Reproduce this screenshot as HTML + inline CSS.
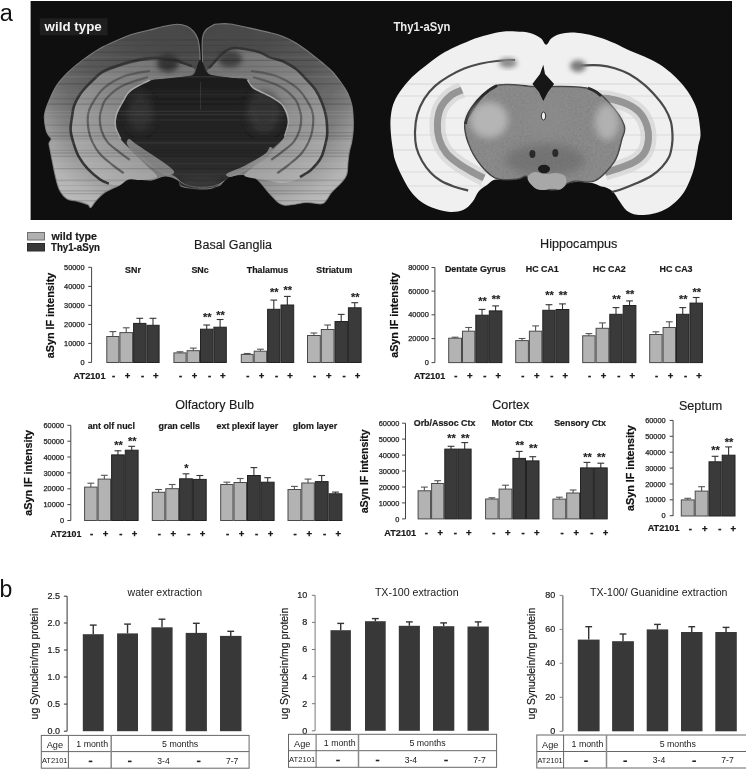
<!DOCTYPE html>
<html><head><meta charset="utf-8"><style>
html,body{margin:0;padding:0;background:#fff;}
body{width:746px;height:769px;overflow:hidden;}
svg{display:block;font-family:"Liberation Sans", sans-serif;-webkit-font-smoothing:antialiased;will-change:transform;}
</style></head><body>
<svg width="746" height="769" viewBox="0 0 746 769">
<text x="-0.3" y="20.8" font-size="23.5" font-weight="normal" text-anchor="start" fill="#111" >a</text>
<rect x="30.6" y="1" width="701.4" height="219" fill="#0f0f0f" stroke="none" stroke-width="1"/>
<defs>
<filter id="bl" x="-5%" y="-5%" width="110%" height="110%"><feGaussianBlur stdDeviation="0.6"/></filter>
<filter id="bl2" x="-30%" y="-30%" width="160%" height="160%"><feGaussianBlur stdDeviation="2.5"/></filter>
<filter id="bl3" x="-30%" y="-30%" width="160%" height="160%"><feGaussianBlur stdDeviation="5"/></filter>
<filter id="nz" x="0" y="0" width="100%" height="100%"><feTurbulence type="fractalNoise" baseFrequency="0.45" numOctaves="2" seed="7"/><feColorMatrix type="matrix" values="0.33 0.33 0.33 0 0  0.33 0.33 0.33 0 0  0.33 0.33 0.33 0 0  0 0 0 0 1"/></filter>
<filter id="bl4" x="-30%" y="-30%" width="160%" height="160%"><feGaussianBlur stdDeviation="3.5"/></filter>
<radialGradient id="wtc" gradientUnits="userSpaceOnUse" cx="200.5" cy="0" r="260">
 <stop offset="0" stop-color="#444"/><stop offset="0.3" stop-color="#4c4c4c"/><stop offset="0.5" stop-color="#5a5a5a"/><stop offset="0.62" stop-color="#6a6a6a"/><stop offset="0.7" stop-color="#7e7e7e"/><stop offset="0.78" stop-color="#9c9c9c"/><stop offset="0.86" stop-color="#b4b4b4"/><stop offset="1" stop-color="#c4c4c4"/>
</radialGradient>
<radialGradient id="wth" gradientUnits="userSpaceOnUse" cx="200.5" cy="0" r="260">
 <stop offset="0" stop-color="#666"/><stop offset="0.3" stop-color="#767676"/><stop offset="0.5" stop-color="#868686"/><stop offset="0.65" stop-color="#9a9a9a"/><stop offset="0.8" stop-color="#b2b2b2"/><stop offset="1" stop-color="#c8c8c8"/>
</radialGradient>
<linearGradient id="wtt" gradientUnits="userSpaceOnUse" x1="0" y1="78" x2="0" y2="190">
 <stop offset="0" stop-color="#1e1e1e"/><stop offset="0.6" stop-color="#262626"/><stop offset="1" stop-color="#333"/>
</linearGradient>
</defs>
<g filter="url(#bl)">
<path d="M200.5,75.0 C200.3,71.7 200.2,60.2 200.0,55.0 C199.8,49.8 199.4,46.9 199.0,44.0 C198.6,41.1 198.2,39.6 197.3,37.5 C196.4,35.4 195.0,33.0 193.3,31.1 C191.6,29.2 189.6,27.4 186.9,26.3 C184.2,25.2 181.0,24.3 177.2,24.3 C173.4,24.3 169.1,25.3 164.3,26.3 C159.5,27.3 153.7,29.0 148.3,30.3 C143.0,31.6 137.6,32.6 132.2,34.3 C126.8,36.0 121.4,38.4 116.1,40.7 C110.8,43.0 105.6,45.2 100.3,48.2 C95.0,51.2 89.3,55.1 84.2,58.9 C79.1,62.7 74.0,66.7 69.5,70.9 C65.0,75.1 60.8,79.5 57.4,84.3 C54.0,89.1 51.5,94.9 49.4,100.0 C47.2,105.1 45.1,109.9 44.5,114.9 C43.9,119.9 45.2,126.4 46.0,129.9 C46.8,133.4 48.1,134.4 49.0,135.9 C49.9,137.4 51.2,137.7 51.2,138.9 C51.2,140.1 49.2,141.8 49.0,143.3 C48.8,144.8 49.2,145.1 49.7,147.8 C50.2,150.6 51.1,155.3 52.0,159.8 C52.9,164.3 53.8,169.7 55.0,174.7 C56.2,179.7 57.4,185.7 59.4,189.7 C61.4,193.7 63.7,196.7 66.9,198.7 C70.2,200.7 75.4,200.6 78.9,201.6 C82.4,202.6 85.8,203.6 87.8,204.6 C89.8,205.6 89.5,208.1 90.8,207.6 C92.0,207.1 93.0,204.1 95.3,201.6 C97.5,199.1 100.3,195.4 104.3,192.7 C108.3,190.0 115.2,187.4 119.2,185.2 C123.2,182.9 124.7,180.2 128.2,179.2 C131.7,178.2 136.0,179.1 140.0,179.2 C144.0,179.3 147.8,180.5 152.0,180.0 C156.2,179.5 160.7,176.0 165.0,176.0 C169.3,176.0 175.3,178.3 178.0,180.0 C180.7,181.7 178.9,184.7 181.0,186.0 C183.1,187.3 187.2,187.5 190.5,188.0 C193.8,188.5 197.2,188.9 200.5,189.0 C203.8,189.1 207.6,188.8 210.0,188.5 C212.4,188.2 213.0,187.6 214.7,187.0 C216.4,186.4 218.5,186.0 220.0,185.0 C221.5,184.0 222.0,182.5 223.8,181.0 C225.6,179.5 226.6,177.0 230.8,176.0 C235.0,175.0 244.3,174.2 249.0,175.0 C253.7,175.8 255.4,177.7 259.0,181.0 C262.6,184.3 266.6,190.9 270.7,194.9 C274.8,198.9 277.5,203.7 283.4,205.0 C289.3,206.3 299.9,202.7 306.2,202.5 C312.5,202.3 318.0,204.2 321.4,203.8 C324.8,203.4 324.8,201.9 326.5,200.0 C328.2,198.1 329.0,195.4 331.5,192.4 C334.0,189.4 339.2,185.2 341.7,182.2 C344.2,179.2 345.6,178.0 346.7,174.6 C347.8,171.2 347.6,165.8 348.0,162.0 C348.4,158.2 348.7,155.2 349.3,151.8 C349.9,148.4 351.2,145.3 351.8,141.7 C352.4,138.1 353.0,133.9 353.2,130.0 C353.4,126.1 353.4,122.5 353.2,118.4 C353.0,114.3 352.8,109.5 351.9,105.4 C351.0,101.3 349.7,97.4 348.0,93.7 C346.3,90.0 344.1,87.0 341.5,83.3 C338.9,79.6 335.6,75.1 332.4,71.6 C329.1,68.1 325.9,65.8 322.0,62.5 C318.1,59.2 313.3,55.4 309.0,52.1 C304.7,48.9 300.3,45.6 296.0,43.0 C291.7,40.4 287.3,38.2 283.0,36.5 C278.7,34.8 275.8,34.1 270.4,32.7 C264.9,31.3 257.0,29.6 250.3,28.1 C243.6,26.7 235.8,24.7 230.2,24.0 C224.6,23.3 219.7,23.8 216.8,24.0 C213.9,24.2 214.4,24.6 212.6,25.5 C210.8,26.4 207.8,27.8 206.2,29.5 C204.6,31.2 203.6,33.4 202.9,35.9 C202.2,38.4 202.2,40.4 202.1,44.8 C202.0,49.1 202.7,57.0 202.5,62.0 C202.3,67.0 201.3,72.8 201.0,75.0 C200.7,77.2 200.7,78.3 200.5,75.0 Z" fill="url(#wtc)" stroke="#8c8c8c" stroke-width="1.1" stroke-opacity="0.8"/>
<path d="M193.0,68.0 C189.2,65.8 176.9,62.3 170.0,61.0 C163.1,59.7 157.7,59.7 151.5,60.0 C145.3,60.3 139.1,61.6 133.0,63.0 C126.9,64.4 120.2,66.7 115.0,68.5 C109.8,70.3 105.6,71.8 102.0,74.0 C98.4,76.2 96.4,78.7 93.6,81.4 C90.8,84.1 87.5,87.2 85.0,90.0 C82.5,92.8 80.4,95.5 78.6,98.5 C76.8,101.5 75.1,104.8 74.0,108.0 C72.9,111.2 72.8,114.1 72.2,117.8 C71.6,121.5 70.4,125.7 70.6,129.9 C70.8,134.2 72.2,138.8 73.6,143.3 C75.0,147.8 76.5,152.6 78.9,156.8 C81.3,161.1 84.3,165.1 87.8,168.8 C91.3,172.5 96.3,176.7 99.8,179.2 C103.3,181.7 105.6,182.7 108.8,183.7 C112.0,184.7 116.0,185.9 119.2,185.2 C122.4,184.4 124.7,180.1 128.2,179.2 C131.7,178.3 136.0,180.0 140.0,180.0 C144.0,180.0 149.2,179.7 152.0,179.0 C154.8,178.3 157.7,178.0 157.0,176.0 C156.3,174.0 151.2,170.2 148.0,167.0 C144.8,163.8 141.1,160.0 138.0,157.0 C134.9,154.0 132.6,152.0 129.7,149.0 C126.8,146.0 123.1,142.6 120.7,138.9 C118.3,135.2 116.2,130.9 115.5,126.9 C114.8,122.9 114.8,119.4 116.2,114.9 C117.6,110.4 121.2,104.0 123.7,100.0 C126.2,96.0 126.8,94.2 131.0,91.0 C135.2,87.8 143.0,83.1 149.0,81.0 C155.0,78.9 161.0,79.2 167.0,78.5 C173.0,77.8 180.7,77.2 185.0,76.5 C189.3,75.8 191.7,75.4 193.0,74.0 C194.3,72.6 196.8,70.2 193.0,68.0 Z" fill="url(#wth)"/>
<path d="M208.0,70.0 C211.7,65.8 221.8,52.1 230.0,49.0 C238.2,45.9 248.2,49.5 257.0,51.5 C265.8,53.5 276.5,58.3 283.0,61.2 C289.5,64.1 292.1,66.0 296.0,69.0 C299.9,72.0 303.1,75.9 306.4,79.4 C309.6,82.9 312.9,85.9 315.5,89.8 C318.1,93.7 320.3,98.5 322.0,102.8 C323.7,107.1 325.0,111.3 325.9,115.8 C326.8,120.3 327.1,126.1 327.2,130.0 C327.3,133.9 327.5,134.6 326.5,139.1 C325.5,143.6 323.9,151.8 321.4,156.9 C318.9,162.0 314.9,166.1 311.3,169.6 C307.7,173.1 304.7,175.8 300.0,178.0 C295.3,180.2 288.8,182.7 283.0,183.0 C277.2,183.3 271.0,181.0 265.0,180.0 C259.0,179.0 250.3,178.0 247.0,177.0 C243.7,176.0 243.8,175.8 245.0,174.0 C246.2,172.2 250.8,168.8 254.0,166.0 C257.2,163.2 260.7,159.8 264.0,157.0 C267.3,154.2 270.6,152.4 274.0,149.0 C277.4,145.6 282.2,141.2 284.6,136.6 C287.0,132.0 288.6,126.5 288.4,121.4 C288.2,116.3 285.9,110.1 283.4,106.2 C280.8,102.3 276.4,100.2 273.1,98.0 C269.8,95.8 267.1,94.8 263.7,93.1 C260.3,91.4 255.7,89.9 253.0,87.7 C250.3,85.5 249.2,81.3 247.6,79.7 C246.0,78.1 246.5,78.6 243.6,78.3 C240.7,78.0 235.1,78.2 230.2,77.7 C225.3,77.2 217.8,76.2 214.1,75.6 C210.4,75.0 209.0,74.9 208.0,74.0 C207.0,73.1 204.3,74.2 208.0,70.0 Z" fill="url(#wth)"/>
<path d="M192.0,66.0 C188.3,64.8 176.8,60.4 170.0,59.0 C163.2,57.6 157.7,57.6 151.5,57.9 C145.3,58.2 139.1,59.6 133.0,61.0 C126.9,62.4 120.2,64.7 115.0,66.5 C109.8,68.3 105.6,69.8 102.0,72.0 C98.4,74.2 96.4,76.7 93.6,79.4 C90.8,82.1 87.5,85.2 85.0,88.0 C82.5,90.8 80.4,93.5 78.6,96.5 C76.8,99.5 75.1,102.8 74.0,106.0 C72.9,109.2 72.8,111.8 72.2,115.8 C71.6,119.8 70.4,125.3 70.6,129.9 C70.8,134.5 72.2,138.8 73.6,143.3 C75.0,147.8 76.5,152.6 78.9,156.8 C81.3,161.1 84.3,165.1 87.8,168.8 C91.3,172.5 96.3,176.7 99.8,179.2 C103.3,181.7 107.3,182.9 108.8,183.7" fill="none" stroke="#353535" stroke-width="2.6"/>
<path d="M209.0,68.0 C212.5,64.8 222.0,51.5 230.0,48.8 C238.0,46.0 250.3,50.1 257.0,51.5 C263.7,52.9 265.7,55.7 270.0,57.3 C274.3,58.9 278.7,59.2 283.0,61.2 C287.3,63.2 292.1,66.0 296.0,69.0 C299.9,72.0 303.1,75.9 306.4,79.4 C309.6,82.9 312.9,85.9 315.5,89.8 C318.1,93.7 320.3,98.5 322.0,102.8 C323.7,107.1 325.0,111.3 325.9,115.8 C326.8,120.3 327.1,126.1 327.2,130.0 C327.3,133.9 327.5,134.6 326.5,139.1 C325.5,143.6 323.9,151.8 321.4,156.9 C318.9,162.0 314.9,166.2 311.3,169.6 C307.7,172.9 301.9,175.8 300.0,177.0" fill="none" stroke="#353535" stroke-width="2.6"/>
<path d="M150.0,71.0 C145.8,71.8 132.7,73.2 125.0,76.0 C117.3,78.8 109.5,83.3 104.0,88.0 C98.5,92.7 94.7,99.5 92.0,104.0 C89.3,108.5 88.6,110.6 88.0,114.9 C87.4,119.2 87.9,125.4 88.6,129.9 C89.3,134.4 90.4,137.9 92.3,141.9 C94.2,145.9 96.6,150.1 99.8,153.8 C103.0,157.5 107.7,161.1 111.7,164.3 C115.7,167.5 121.7,171.7 123.7,173.2" fill="none" stroke="#555" stroke-width="2.2" opacity="0.85"/>
<path d="M148.0,77.0 C143.7,78.5 129.0,82.3 122.0,86.0 C115.0,89.7 109.5,95.0 106.0,99.0 C102.5,103.0 102.3,106.8 101.3,110.0 C100.3,113.2 99.8,114.7 99.8,118.0 C99.8,121.3 100.0,125.9 101.3,129.9 C102.5,133.9 104.6,138.4 107.3,141.9 C110.0,145.4 114.0,147.8 117.7,150.8 C121.4,153.8 127.7,158.3 129.7,159.8" fill="none" stroke="#555" stroke-width="2.2" opacity="0.85"/>
<path d="M251.0,71.0 C255.2,71.8 268.3,73.2 276.0,76.0 C283.7,78.8 291.5,83.3 297.0,88.0 C302.5,92.7 306.3,99.5 309.0,104.0 C311.7,108.5 312.4,110.6 313.0,114.9 C313.6,119.2 313.1,125.4 312.4,129.9 C311.7,134.4 310.6,137.9 308.7,141.9 C306.8,145.9 304.4,150.1 301.2,153.8 C298.0,157.5 293.3,161.1 289.3,164.3 C285.3,167.5 279.3,171.7 277.3,173.2" fill="none" stroke="#555" stroke-width="2.2" opacity="0.85"/>
<path d="M253.0,77.0 C257.3,78.5 272.0,82.3 279.0,86.0 C286.0,89.7 291.6,95.0 295.0,99.0 C298.4,103.0 298.7,106.8 299.7,110.0 C300.7,113.2 301.2,114.7 301.2,118.0 C301.2,121.3 300.9,125.9 299.7,129.9 C298.4,133.9 296.4,138.4 293.7,141.9 C291.0,145.4 287.0,147.8 283.3,150.8 C279.6,153.8 273.3,158.3 271.3,159.8" fill="none" stroke="#555" stroke-width="2.2" opacity="0.85"/>
<ellipse cx="168" cy="63" rx="11" ry="9" fill="#2c2c2c" opacity="0.85" filter="url(#bl2)"/>
<ellipse cx="230" cy="59" rx="12" ry="8" fill="#303030" opacity="0.8" filter="url(#bl2)"/>
<path d="M149.0,81.0 C143.0,83.1 135.2,87.8 131.0,91.0 C126.8,94.2 126.2,96.0 123.7,100.0 C121.2,104.0 117.6,110.4 116.2,114.9 C114.8,119.4 114.8,122.9 115.5,126.9 C116.2,130.9 118.3,135.4 120.7,138.9 C123.1,142.4 126.5,145.3 129.7,148.0 C132.9,150.7 136.3,152.2 140.0,155.0 C143.7,157.8 148.3,162.2 152.0,165.0 C155.7,167.8 158.9,170.5 162.0,172.0 C165.1,173.5 167.6,172.8 170.3,174.0 C173.0,175.2 176.7,177.2 178.4,179.0 C180.1,180.8 178.4,183.5 180.4,185.0 C182.4,186.5 187.1,187.4 190.5,188.0 C193.9,188.6 196.6,188.8 200.6,188.6 C204.6,188.4 210.8,188.3 214.7,187.0 C218.6,185.7 221.1,182.8 223.8,181.0 C226.5,179.2 228.1,177.5 230.8,176.0 C233.5,174.5 236.8,173.8 240.0,172.0 C243.2,170.2 246.3,167.7 250.0,165.0 C253.7,162.3 258.3,158.7 262.0,156.0 C265.7,153.3 268.2,152.2 272.0,149.0 C275.8,145.8 281.9,141.2 284.6,136.6 C287.3,132.0 288.6,126.5 288.4,121.4 C288.2,116.3 285.9,110.1 283.4,106.2 C280.8,102.3 276.4,100.2 273.1,98.0 C269.8,95.8 267.1,94.8 263.7,93.1 C260.3,91.4 255.7,89.9 253.0,87.7 C250.3,85.5 251.4,81.4 247.6,79.7 C243.8,78.0 235.8,78.4 230.2,77.7 C224.6,77.0 218.0,76.5 214.1,75.6 C210.2,74.6 208.9,74.3 207.0,72.0 C205.1,69.7 203.6,64.0 202.5,62.0 C201.4,60.0 201.2,60.0 200.5,60.0 C199.8,60.0 199.6,59.6 198.5,62.0 C197.4,64.4 196.2,71.9 194.0,74.3 C191.8,76.7 189.5,75.8 185.0,76.5 C180.5,77.2 173.0,77.8 167.0,78.5 C161.0,79.2 155.0,78.9 149.0,81.0 Z" fill="url(#wtt)"/>
<ellipse cx="140" cy="112" rx="13" ry="20" fill="#3a3a3a" opacity="0.6" filter="url(#bl4)"/>
<ellipse cx="264" cy="112" rx="17" ry="22" fill="#3c3c3c" opacity="0.65" filter="url(#bl4)"/>
<path d="M129.0,139.0 C130.5,139.0 132.8,141.8 136.0,144.0 C139.2,146.2 144.0,149.3 148.0,152.0 C152.0,154.7 156.2,157.3 160.0,160.0 C163.8,162.7 168.7,165.8 171.0,168.0 C173.3,170.2 174.8,171.8 174.0,173.0 C173.2,174.2 169.2,175.7 166.0,175.0 C162.8,174.3 158.8,171.3 155.0,169.0 C151.2,166.7 146.7,163.8 143.0,161.0 C139.3,158.2 135.7,154.8 133.0,152.0 C130.3,149.2 127.7,146.2 127.0,144.0 C126.3,141.8 127.5,139.0 129.0,139.0 Z" fill="#8a8a8a" opacity="0.9"/>
<path d="M270.0,147.0 C268.8,147.5 268.5,150.8 266.0,153.0 C263.5,155.2 259.0,157.7 255.0,160.0 C251.0,162.3 246.2,165.0 242.0,167.0 C237.8,169.0 232.7,170.7 230.0,172.0 C227.3,173.3 225.8,174.2 226.0,175.0 C226.2,175.8 228.2,177.5 231.0,177.0 C233.8,176.5 238.8,174.0 243.0,172.0 C247.2,170.0 251.8,167.5 256.0,165.0 C260.2,162.5 265.2,159.5 268.0,157.0 C270.8,154.5 272.7,151.7 273.0,150.0 C273.3,148.3 271.2,146.5 270.0,147.0 Z" fill="#8e8e8e" opacity="0.9"/>
<path d="M150.0,80.0 C146.8,81.7 135.4,86.7 131.0,90.0 C126.6,93.3 126.2,95.8 123.7,100.0 C121.2,104.2 117.6,110.4 116.2,114.9 C114.8,119.4 114.8,122.9 115.5,126.9 C116.2,130.9 119.8,136.9 120.7,138.9" fill="none" stroke="#a8a8a8" stroke-width="1.6"/>
<path d="M247.6,79.7 C248.5,81.0 250.3,85.5 253.0,87.7 C255.7,89.9 260.3,91.4 263.7,93.1 C267.1,94.8 269.8,95.8 273.1,98.0 C276.4,100.2 280.8,102.3 283.4,106.2 C285.9,110.1 288.2,116.3 288.4,121.4 C288.6,126.5 285.2,134.1 284.6,136.6" fill="none" stroke="#a8a8a8" stroke-width="1.6"/>
<path d="M179,180 C185,189 215,190 224,181" fill="none" stroke="#8a8a8a" stroke-width="1"/>
<ellipse cx="200.5" cy="182" rx="19" ry="5" fill="#3a3a3a" opacity="0.9" filter="url(#bl2)"/>
<path d="M200.5,82 L200.5,110" stroke="#3a3a3a" stroke-width="0.8"/>
<clipPath id="cp1"><path d="M200.5,75.0 C200.3,71.7 200.2,60.2 200.0,55.0 C199.8,49.8 199.4,46.9 199.0,44.0 C198.6,41.1 198.2,39.6 197.3,37.5 C196.4,35.4 195.0,33.0 193.3,31.1 C191.6,29.2 189.6,27.4 186.9,26.3 C184.2,25.2 181.0,24.3 177.2,24.3 C173.4,24.3 169.1,25.3 164.3,26.3 C159.5,27.3 153.7,29.0 148.3,30.3 C143.0,31.6 137.6,32.6 132.2,34.3 C126.8,36.0 121.4,38.4 116.1,40.7 C110.8,43.0 105.6,45.2 100.3,48.2 C95.0,51.2 89.3,55.1 84.2,58.9 C79.1,62.7 74.0,66.7 69.5,70.9 C65.0,75.1 60.8,79.5 57.4,84.3 C54.0,89.1 51.5,94.9 49.4,100.0 C47.2,105.1 45.1,109.9 44.5,114.9 C43.9,119.9 45.2,126.4 46.0,129.9 C46.8,133.4 48.1,134.4 49.0,135.9 C49.9,137.4 51.2,137.7 51.2,138.9 C51.2,140.1 49.2,141.8 49.0,143.3 C48.8,144.8 49.2,145.1 49.7,147.8 C50.2,150.6 51.1,155.3 52.0,159.8 C52.9,164.3 53.8,169.7 55.0,174.7 C56.2,179.7 57.4,185.7 59.4,189.7 C61.4,193.7 63.7,196.7 66.9,198.7 C70.2,200.7 75.4,200.6 78.9,201.6 C82.4,202.6 85.8,203.6 87.8,204.6 C89.8,205.6 89.5,208.1 90.8,207.6 C92.0,207.1 93.0,204.1 95.3,201.6 C97.5,199.1 100.3,195.4 104.3,192.7 C108.3,190.0 115.2,187.4 119.2,185.2 C123.2,182.9 124.7,180.2 128.2,179.2 C131.7,178.2 136.0,179.1 140.0,179.2 C144.0,179.3 147.8,180.5 152.0,180.0 C156.2,179.5 160.7,176.0 165.0,176.0 C169.3,176.0 175.3,178.3 178.0,180.0 C180.7,181.7 178.9,184.7 181.0,186.0 C183.1,187.3 187.2,187.5 190.5,188.0 C193.8,188.5 197.2,188.9 200.5,189.0 C203.8,189.1 207.6,188.8 210.0,188.5 C212.4,188.2 213.0,187.6 214.7,187.0 C216.4,186.4 218.5,186.0 220.0,185.0 C221.5,184.0 222.0,182.5 223.8,181.0 C225.6,179.5 226.6,177.0 230.8,176.0 C235.0,175.0 244.3,174.2 249.0,175.0 C253.7,175.8 255.4,177.7 259.0,181.0 C262.6,184.3 266.6,190.9 270.7,194.9 C274.8,198.9 277.5,203.7 283.4,205.0 C289.3,206.3 299.9,202.7 306.2,202.5 C312.5,202.3 318.0,204.2 321.4,203.8 C324.8,203.4 324.8,201.9 326.5,200.0 C328.2,198.1 329.0,195.4 331.5,192.4 C334.0,189.4 339.2,185.2 341.7,182.2 C344.2,179.2 345.6,178.0 346.7,174.6 C347.8,171.2 347.6,165.8 348.0,162.0 C348.4,158.2 348.7,155.2 349.3,151.8 C349.9,148.4 351.2,145.3 351.8,141.7 C352.4,138.1 353.0,133.9 353.2,130.0 C353.4,126.1 353.4,122.5 353.2,118.4 C353.0,114.3 352.8,109.5 351.9,105.4 C351.0,101.3 349.7,97.4 348.0,93.7 C346.3,90.0 344.1,87.0 341.5,83.3 C338.9,79.6 335.6,75.1 332.4,71.6 C329.1,68.1 325.9,65.8 322.0,62.5 C318.1,59.2 313.3,55.4 309.0,52.1 C304.7,48.9 300.3,45.6 296.0,43.0 C291.7,40.4 287.3,38.2 283.0,36.5 C278.7,34.8 275.8,34.1 270.4,32.7 C264.9,31.3 257.0,29.6 250.3,28.1 C243.6,26.7 235.8,24.7 230.2,24.0 C224.6,23.3 219.7,23.8 216.8,24.0 C213.9,24.2 214.4,24.6 212.6,25.5 C210.8,26.4 207.8,27.8 206.2,29.5 C204.6,31.2 203.6,33.4 202.9,35.9 C202.2,38.4 202.2,40.4 202.1,44.8 C202.0,49.1 202.7,57.0 202.5,62.0 C202.3,67.0 201.3,72.8 201.0,75.0 C200.7,77.2 200.7,78.3 200.5,75.0 Z"/></clipPath>
<g clip-path="url(#cp1)">
<line x1="40" y1="40.0" x2="360" y2="40.0" stroke="#000" stroke-width="1.1" opacity="0.13"/>
<line x1="40" y1="45.5" x2="360" y2="45.5" stroke="#000" stroke-width="0.8" opacity="0.09"/>
<line x1="40" y1="52.2" x2="360" y2="52.2" stroke="#000" stroke-width="1.6" opacity="0.10"/>
<line x1="40" y1="57.1" x2="360" y2="57.1" stroke="#fff" stroke-width="1.3" opacity="0.05"/>
<line x1="40" y1="60.3" x2="360" y2="60.3" stroke="#000" stroke-width="1.2" opacity="0.17"/>
<line x1="40" y1="66.5" x2="360" y2="66.5" stroke="#000" stroke-width="1.4" opacity="0.09"/>
<line x1="40" y1="72.0" x2="360" y2="72.0" stroke="#000" stroke-width="1.5" opacity="0.08"/>
<line x1="40" y1="76.8" x2="360" y2="76.8" stroke="#fff" stroke-width="1.4" opacity="0.07"/>
<line x1="40" y1="83.9" x2="360" y2="83.9" stroke="#000" stroke-width="1.2" opacity="0.16"/>
<line x1="40" y1="91.1" x2="360" y2="91.1" stroke="#fff" stroke-width="0.9" opacity="0.03"/>
<line x1="40" y1="94.7" x2="360" y2="94.7" stroke="#fff" stroke-width="1.3" opacity="0.05"/>
<line x1="40" y1="98.7" x2="360" y2="98.7" stroke="#000" stroke-width="1.1" opacity="0.12"/>
<line x1="40" y1="104.1" x2="360" y2="104.1" stroke="#000" stroke-width="1.3" opacity="0.17"/>
<line x1="40" y1="111.3" x2="360" y2="111.3" stroke="#fff" stroke-width="1.3" opacity="0.07"/>
<line x1="40" y1="114.6" x2="360" y2="114.6" stroke="#fff" stroke-width="1.5" opacity="0.07"/>
<line x1="40" y1="119.9" x2="360" y2="119.9" stroke="#fff" stroke-width="1.5" opacity="0.04"/>
<line x1="40" y1="125.3" x2="360" y2="125.3" stroke="#000" stroke-width="1.5" opacity="0.09"/>
<line x1="40" y1="132.8" x2="360" y2="132.8" stroke="#000" stroke-width="1.1" opacity="0.16"/>
<line x1="40" y1="136.0" x2="360" y2="136.0" stroke="#000" stroke-width="1.5" opacity="0.16"/>
<line x1="40" y1="138.7" x2="360" y2="138.7" stroke="#000" stroke-width="1.4" opacity="0.08"/>
<line x1="40" y1="142.9" x2="360" y2="142.9" stroke="#fff" stroke-width="1.2" opacity="0.07"/>
<line x1="40" y1="150.4" x2="360" y2="150.4" stroke="#000" stroke-width="1.3" opacity="0.09"/>
<line x1="40" y1="153.0" x2="360" y2="153.0" stroke="#000" stroke-width="1.3" opacity="0.12"/>
<line x1="40" y1="156.3" x2="360" y2="156.3" stroke="#000" stroke-width="1.1" opacity="0.17"/>
<line x1="40" y1="163.6" x2="360" y2="163.6" stroke="#fff" stroke-width="1.2" opacity="0.05"/>
<line x1="40" y1="168.7" x2="360" y2="168.7" stroke="#000" stroke-width="1.2" opacity="0.14"/>
<line x1="40" y1="174.3" x2="360" y2="174.3" stroke="#fff" stroke-width="1.1" opacity="0.05"/>
<line x1="40" y1="180.4" x2="360" y2="180.4" stroke="#000" stroke-width="1.6" opacity="0.11"/>
<line x1="40" y1="185.5" x2="360" y2="185.5" stroke="#000" stroke-width="1.1" opacity="0.08"/>
<line x1="40" y1="190.9" x2="360" y2="190.9" stroke="#000" stroke-width="1.3" opacity="0.14"/>
<line x1="40" y1="193.7" x2="360" y2="193.7" stroke="#000" stroke-width="1.3" opacity="0.13"/>
<line x1="40" y1="198.0" x2="360" y2="198.0" stroke="#fff" stroke-width="0.8" opacity="0.06"/>
<line x1="40" y1="200.8" x2="360" y2="200.8" stroke="#000" stroke-width="1.0" opacity="0.18"/>
</g>
</g>
<g filter="url(#bl)">
<clipPath id="cp2"><path d="M546.1,44.7 C544.3,44.7 543.5,40.2 540.8,38.2 C538.1,36.2 534.1,34.0 530.0,32.9 C525.9,31.8 520.7,31.7 516.0,31.5 C511.3,31.3 506.8,31.2 502.0,31.8 C497.2,32.4 492.3,33.6 487.0,35.0 C481.7,36.4 476.9,37.6 470.0,40.4 C463.1,43.2 452.3,47.9 445.3,51.8 C438.3,55.7 433.5,59.6 427.9,63.9 C422.3,68.2 416.5,72.6 411.8,77.3 C407.1,82.0 402.8,87.4 399.7,92.0 C396.6,96.6 394.5,100.3 393.0,105.0 C391.5,109.7 390.8,115.0 390.5,120.0 C390.2,125.0 390.6,130.0 391.0,135.0 C391.4,140.0 392.3,145.8 393.0,150.0 C393.7,154.2 393.6,155.7 395.0,159.9 C396.4,164.1 399.0,170.2 401.6,175.4 C404.2,180.6 407.2,186.5 410.5,190.9 C413.8,195.3 417.4,199.0 421.5,201.9 C425.6,204.8 430.0,206.9 434.8,208.6 C439.6,210.3 445.5,211.7 450.3,211.9 C455.1,212.1 459.9,211.4 463.6,209.7 C467.3,208.0 469.8,205.0 472.4,201.9 C475.0,198.8 476.4,193.9 479.0,190.9 C481.6,187.9 485.3,186.0 487.9,184.2 C490.5,182.3 491.6,180.5 494.5,179.8 C497.4,179.1 501.5,180.0 505.6,179.8 C509.7,179.6 515.6,179.3 518.9,178.7 C522.2,178.1 523.3,175.8 525.5,176.0 C527.7,176.2 529.9,178.1 532.1,179.8 C534.3,181.5 535.8,184.7 538.8,186.4 C541.8,188.1 546.3,189.4 549.8,189.8 C553.3,190.2 557.3,189.7 560.0,188.7 C562.7,187.7 563.5,185.1 566.0,184.0 C568.5,182.9 570.6,182.2 575.0,182.0 C579.4,181.8 587.9,182.4 592.1,183.1 C596.3,183.8 597.7,185.3 600.0,186.0 C602.3,186.7 603.7,186.5 605.9,187.5 C608.1,188.5 611.1,189.7 613.3,191.9 C615.5,194.1 617.0,197.7 619.2,200.8 C621.4,203.9 623.5,208.1 626.5,210.4 C629.5,212.7 632.7,214.2 636.9,214.8 C641.1,215.4 646.9,215.0 651.6,214.1 C656.3,213.2 661.0,211.6 664.9,209.6 C668.8,207.6 672.0,205.2 675.2,202.3 C678.4,199.4 681.6,195.6 684.1,191.9 C686.6,188.2 688.3,184.3 690.0,180.1 C691.7,175.9 693.2,171.6 694.4,166.9 C695.6,162.2 696.6,155.8 697.3,152.1 C698.0,148.4 698.0,147.1 698.5,144.7 C699.0,142.2 700.0,139.8 700.3,137.4 C700.6,135.0 700.5,133.5 700.3,130.3 C700.0,127.2 699.5,122.4 698.8,118.5 C698.1,114.6 697.4,110.6 695.9,106.7 C694.4,102.8 692.5,98.8 690.0,94.9 C687.5,91.0 684.3,86.8 681.1,83.1 C677.9,79.4 674.5,76.0 670.8,72.8 C667.1,69.6 663.4,66.6 659.0,63.9 C654.6,61.2 649.1,58.7 644.2,56.5 C639.3,54.3 634.4,52.8 629.5,50.6 C624.6,48.4 619.8,45.5 614.7,43.3 C609.6,41.1 604.2,38.9 598.7,37.2 C593.2,35.5 586.1,34.1 581.5,33.3 C576.9,32.5 574.4,32.3 570.8,32.4 C567.2,32.5 563.2,33.0 560.0,34.0 C556.8,35.0 553.8,36.4 551.5,38.2 C549.2,40.0 547.9,44.7 546.1,44.7 Z"/></clipPath>
<path d="M546.1,44.7 C544.3,44.7 543.5,40.2 540.8,38.2 C538.1,36.2 534.1,34.0 530.0,32.9 C525.9,31.8 520.7,31.7 516.0,31.5 C511.3,31.3 506.8,31.2 502.0,31.8 C497.2,32.4 492.3,33.6 487.0,35.0 C481.7,36.4 476.9,37.6 470.0,40.4 C463.1,43.2 452.3,47.9 445.3,51.8 C438.3,55.7 433.5,59.6 427.9,63.9 C422.3,68.2 416.5,72.6 411.8,77.3 C407.1,82.0 402.8,87.4 399.7,92.0 C396.6,96.6 394.5,100.3 393.0,105.0 C391.5,109.7 390.8,115.0 390.5,120.0 C390.2,125.0 390.6,130.0 391.0,135.0 C391.4,140.0 392.3,145.8 393.0,150.0 C393.7,154.2 393.6,155.7 395.0,159.9 C396.4,164.1 399.0,170.2 401.6,175.4 C404.2,180.6 407.2,186.5 410.5,190.9 C413.8,195.3 417.4,199.0 421.5,201.9 C425.6,204.8 430.0,206.9 434.8,208.6 C439.6,210.3 445.5,211.7 450.3,211.9 C455.1,212.1 459.9,211.4 463.6,209.7 C467.3,208.0 469.8,205.0 472.4,201.9 C475.0,198.8 476.4,193.9 479.0,190.9 C481.6,187.9 485.3,186.0 487.9,184.2 C490.5,182.3 491.6,180.5 494.5,179.8 C497.4,179.1 501.5,180.0 505.6,179.8 C509.7,179.6 515.6,179.3 518.9,178.7 C522.2,178.1 523.3,175.8 525.5,176.0 C527.7,176.2 529.9,178.1 532.1,179.8 C534.3,181.5 535.8,184.7 538.8,186.4 C541.8,188.1 546.3,189.4 549.8,189.8 C553.3,190.2 557.3,189.7 560.0,188.7 C562.7,187.7 563.5,185.1 566.0,184.0 C568.5,182.9 570.6,182.2 575.0,182.0 C579.4,181.8 587.9,182.4 592.1,183.1 C596.3,183.8 597.7,185.3 600.0,186.0 C602.3,186.7 603.7,186.5 605.9,187.5 C608.1,188.5 611.1,189.7 613.3,191.9 C615.5,194.1 617.0,197.7 619.2,200.8 C621.4,203.9 623.5,208.1 626.5,210.4 C629.5,212.7 632.7,214.2 636.9,214.8 C641.1,215.4 646.9,215.0 651.6,214.1 C656.3,213.2 661.0,211.6 664.9,209.6 C668.8,207.6 672.0,205.2 675.2,202.3 C678.4,199.4 681.6,195.6 684.1,191.9 C686.6,188.2 688.3,184.3 690.0,180.1 C691.7,175.9 693.2,171.6 694.4,166.9 C695.6,162.2 696.6,155.8 697.3,152.1 C698.0,148.4 698.0,147.1 698.5,144.7 C699.0,142.2 700.0,139.8 700.3,137.4 C700.6,135.0 700.5,133.5 700.3,130.3 C700.0,127.2 699.5,122.4 698.8,118.5 C698.1,114.6 697.4,110.6 695.9,106.7 C694.4,102.8 692.5,98.8 690.0,94.9 C687.5,91.0 684.3,86.8 681.1,83.1 C677.9,79.4 674.5,76.0 670.8,72.8 C667.1,69.6 663.4,66.6 659.0,63.9 C654.6,61.2 649.1,58.7 644.2,56.5 C639.3,54.3 634.4,52.8 629.5,50.6 C624.6,48.4 619.8,45.5 614.7,43.3 C609.6,41.1 604.2,38.9 598.7,37.2 C593.2,35.5 586.1,34.1 581.5,33.3 C576.9,32.5 574.4,32.3 570.8,32.4 C567.2,32.5 563.2,33.0 560.0,34.0 C556.8,35.0 553.8,36.4 551.5,38.2 C549.2,40.0 547.9,44.7 546.1,44.7 Z" fill="#f0f0f0"/>
<g clip-path="url(#cp2)">
<line x1="385" y1="84" x2="705" y2="84" stroke="#999" stroke-width="1" opacity="0.3"/>
<line x1="385" y1="96" x2="705" y2="96" stroke="#999" stroke-width="1" opacity="0.25"/>
<line x1="385" y1="118" x2="705" y2="118" stroke="#999" stroke-width="1" opacity="0.2"/>
<line x1="385" y1="135" x2="705" y2="135" stroke="#999" stroke-width="1" opacity="0.25"/>
<line x1="385" y1="150" x2="705" y2="150" stroke="#999" stroke-width="1" opacity="0.3"/>
<line x1="385" y1="172" x2="705" y2="172" stroke="#999" stroke-width="1" opacity="0.25"/>
<line x1="385" y1="186" x2="705" y2="186" stroke="#999" stroke-width="1" opacity="0.25"/>
</g>
<path d="M462.0,90.0 C460.2,90.8 455.0,92.1 451.5,95.0 C448.0,97.9 443.2,102.7 440.8,107.6 C438.4,112.5 437.6,118.8 437.4,124.2 C437.1,129.6 437.8,134.9 439.3,139.8 C440.9,144.7 443.4,149.4 446.7,153.5 C450.0,157.6 454.8,160.9 459.3,164.2 C463.9,167.4 469.9,170.7 474.0,173.0 C478.1,175.3 482.3,177.2 484.0,178.0" fill="none" stroke="#cfcfcf" stroke-width="16" opacity="0.6"/>
<path d="M462.0,90.0 C460.2,90.8 455.0,92.1 451.5,95.0 C448.0,97.9 443.2,102.7 440.8,107.6 C438.4,112.5 437.6,118.8 437.4,124.2 C437.1,129.6 437.8,134.9 439.3,139.8 C440.9,144.7 443.4,149.4 446.7,153.5 C450.0,157.6 454.8,160.9 459.3,164.2 C463.9,167.4 469.9,170.7 474.0,173.0 C478.1,175.3 482.3,177.2 484.0,178.0" fill="none" stroke="#959595" stroke-width="7"/>
<path d="M596.0,98.0 C598.3,98.2 604.8,98.0 610.0,99.0 C615.2,100.0 622.0,101.7 627.0,104.0 C632.0,106.3 636.7,109.3 640.0,113.0 C643.3,116.7 645.6,121.7 647.0,126.0 C648.4,130.3 648.8,134.7 648.5,139.0 C648.2,143.3 647.1,148.3 645.0,152.0 C642.9,155.7 640.0,158.4 636.0,161.0 C632.0,163.6 626.2,165.6 621.0,167.5 C615.8,169.4 607.7,171.7 605.0,172.5" fill="none" stroke="#cfcfcf" stroke-width="16" opacity="0.6"/>
<path d="M596.0,98.0 C598.3,98.2 604.8,98.0 610.0,99.0 C615.2,100.0 622.0,101.7 627.0,104.0 C632.0,106.3 636.7,109.3 640.0,113.0 C643.3,116.7 645.6,121.7 647.0,126.0 C648.4,130.3 648.8,134.7 648.5,139.0 C648.2,143.3 647.1,148.3 645.0,152.0 C642.9,155.7 640.0,158.4 636.0,161.0 C632.0,163.6 626.2,165.6 621.0,167.5 C615.8,169.4 607.7,171.7 605.0,172.5" fill="none" stroke="#959595" stroke-width="7"/>
<path d="M515.0,60.0 C512.0,60.2 502.8,60.4 497.0,61.0 C491.2,61.6 485.5,62.5 480.0,63.7 C474.5,65.0 469.4,66.4 464.2,68.5 C459.0,70.6 453.5,73.5 448.6,76.4 C443.7,79.3 439.0,82.4 434.9,86.1 C430.8,89.8 427.1,94.1 424.2,98.8 C421.3,103.5 418.8,108.9 417.3,114.4 C415.8,119.9 415.1,126.5 415.0,132.0 C414.9,137.5 415.2,142.7 416.4,147.6 C417.6,152.5 419.8,157.1 422.2,161.3 C424.6,165.5 427.9,169.8 431.0,173.0 C434.1,176.2 436.9,178.5 440.8,180.8 C444.7,183.1 449.8,185.1 454.4,186.7 C458.9,188.3 465.8,189.9 468.1,190.6" fill="none" stroke="#4a4a4a" stroke-width="2.2"/>
<path d="M580.0,65.5 C583.3,65.5 594.2,64.9 600.0,65.4 C605.8,65.9 609.8,66.8 614.7,68.3 C619.6,69.8 624.6,71.5 629.5,74.2 C634.4,76.9 639.8,80.9 644.2,84.6 C648.6,88.3 652.5,92.5 656.0,96.4 C659.5,100.3 662.4,104.0 664.9,108.2 C667.4,112.4 669.5,116.9 670.8,121.4 C672.1,125.9 672.3,131.1 672.5,135.0 C672.7,138.9 672.5,141.4 672.0,145.0 C671.5,148.6 671.0,152.8 669.3,156.5 C667.6,160.2 665.0,163.7 662.0,166.9 C659.0,170.1 655.8,173.0 651.6,175.7 C647.4,178.4 641.8,180.9 636.9,183.1 C632.0,185.3 626.2,187.5 622.1,189.0 C618.0,190.5 613.7,191.5 612.0,192.0" fill="none" stroke="#4a4a4a" stroke-width="2.2"/>
<ellipse cx="508" cy="63" rx="9" ry="5" fill="#8a8a8a" filter="url(#bl2)"/>
<ellipse cx="578" cy="66" rx="8" ry="6" fill="#7a7a7a" filter="url(#bl2)"/>
<path d="M493.8,86.5 C483.4,91.3 474.5,108.7 469.7,115.5 C464.9,122.3 464.6,122.0 464.8,127.6 C465.0,133.2 468.1,142.9 470.9,149.3 C473.7,155.7 477.8,161.5 481.7,166.2 C485.6,170.9 490.5,175.3 494.5,177.6 C498.5,179.9 501.5,179.6 505.6,179.8 C509.7,180.0 515.6,179.3 518.9,178.7 C522.2,178.1 523.3,175.8 525.5,176.0 C527.7,176.2 529.9,178.1 532.1,179.8 C534.3,181.5 535.8,184.7 538.8,186.4 C541.8,188.1 546.3,189.4 549.8,189.8 C553.3,190.2 557.3,189.7 560.0,188.7 C562.7,187.7 563.5,185.3 566.0,184.0 C568.5,182.7 570.1,181.6 575.0,181.0 C579.9,180.4 588.5,184.0 595.1,180.7 C601.7,177.4 610.0,168.2 614.4,161.4 C618.8,154.6 620.1,145.6 621.7,139.6 C623.3,133.6 626.1,131.2 624.1,125.2 C622.1,119.2 615.2,109.4 609.6,103.4 C604.0,97.4 599.1,91.8 590.3,89.0 C581.4,86.2 563.7,86.8 556.5,86.5 C549.3,86.2 551.1,87.0 547.0,87.0 C542.9,87.0 540.9,86.6 532.0,86.5 C523.1,86.4 504.2,81.7 493.8,86.5 Z" fill="#7c7c7c" stroke="#3a3a3a" stroke-width="1.5"/>
<clipPath id="cpt2"><path d="M493.8,86.5 C483.4,91.3 474.5,108.7 469.7,115.5 C464.9,122.3 464.6,122.0 464.8,127.6 C465.0,133.2 468.1,142.9 470.9,149.3 C473.7,155.7 477.8,161.5 481.7,166.2 C485.6,170.9 490.5,175.3 494.5,177.6 C498.5,179.9 501.5,179.6 505.6,179.8 C509.7,180.0 515.6,179.3 518.9,178.7 C522.2,178.1 523.3,175.8 525.5,176.0 C527.7,176.2 529.9,178.1 532.1,179.8 C534.3,181.5 535.8,184.7 538.8,186.4 C541.8,188.1 546.3,189.4 549.8,189.8 C553.3,190.2 557.3,189.7 560.0,188.7 C562.7,187.7 563.5,185.3 566.0,184.0 C568.5,182.7 570.1,181.6 575.0,181.0 C579.9,180.4 588.5,184.0 595.1,180.7 C601.7,177.4 610.0,168.2 614.4,161.4 C618.8,154.6 620.1,145.6 621.7,139.6 C623.3,133.6 626.1,131.2 624.1,125.2 C622.1,119.2 615.2,109.4 609.6,103.4 C604.0,97.4 599.1,91.8 590.3,89.0 C581.4,86.2 563.7,86.8 556.5,86.5 C549.3,86.2 551.1,87.0 547.0,87.0 C542.9,87.0 540.9,86.6 532.0,86.5 C523.1,86.4 504.2,81.7 493.8,86.5 Z"/></clipPath>
<rect x="460" y="80" width="170" height="115" filter="url(#nz)" opacity="0.2" clip-path="url(#cpt2)"/>
<path d="M497,85.5 C488,90 478,99 472,108 C468,114 466,119 465.5,124" fill="none" stroke="#2a2a2a" stroke-width="3"/>
<path d="M588,88 C594,90 598,93 601,96" fill="none" stroke="#2a2a2a" stroke-width="2.5"/>
<ellipse cx="545" cy="160" rx="40" ry="16" fill="#5e5e5e" opacity="0.5" filter="url(#bl3)"/>
<ellipse cx="489" cy="120" rx="19" ry="18" fill="#bababa" opacity="0.9" filter="url(#bl4)"/>
<ellipse cx="607" cy="122" rx="12" ry="18" fill="#b6b6b6" opacity="0.9" filter="url(#bl4)"/>
<ellipse cx="547" cy="118" rx="20" ry="20" fill="#8c8c8c" opacity="0.5" filter="url(#bl3)"/>
<path d="M528.0,176.0 C529.0,174.3 532.2,172.3 535.0,172.0 C537.8,171.7 541.5,173.8 545.0,174.0 C548.5,174.2 552.7,172.7 556.0,173.0 C559.3,173.3 563.3,174.2 565.0,176.0 C566.7,177.8 566.8,181.8 566.0,184.0 C565.2,186.2 562.3,188.8 560.0,189.5 C557.7,190.2 554.6,188.4 552.0,188.5 C549.4,188.6 547.1,189.9 544.5,190.0 C541.9,190.1 539.1,190.3 536.5,189.0 C533.9,187.7 530.4,184.2 529.0,182.0 C527.6,179.8 527.0,177.7 528.0,176.0 Z" fill="#a8a8a8"/>
<ellipse cx="532.4" cy="154" rx="3" ry="4" fill="#2a2a2a"/>
<ellipse cx="555.3" cy="153" rx="3" ry="4" fill="#2a2a2a"/>
<ellipse cx="544" cy="169" rx="6" ry="4.2" fill="#1a1a1a"/>
<path d="M543.3,64.8 L545,74 L554.1,84.1 L548,92 L543.3,101 L539,92 L532.4,84.1 L540,74 Z" fill="#121212"/>
<ellipse cx="543.5" cy="116" rx="2.2" ry="4" fill="#eee" stroke="#333" stroke-width="1"/>
</g>
<rect x="39.8" y="18.2" width="67.7" height="17.1" fill="#1f1f1f"/>
<text x="44.6" y="31.2" font-size="13" font-weight="bold" text-anchor="start" fill="#f4f4f4" textLength="57.2" lengthAdjust="spacingAndGlyphs" >wild type</text>
<text x="393.5" y="31.2" font-size="12.2" font-weight="bold" text-anchor="start" fill="#ececec" textLength="56.8" lengthAdjust="spacingAndGlyphs" >Thy1-aSyn</text>
<rect x="27.5" y="232.5" width="17" height="7.5" fill="#b0b0b0" stroke="#707070" stroke-width="1"/>
<rect x="27.5" y="243.5" width="17" height="7.5" fill="#3a3a3a" stroke="#2a2a2a" stroke-width="1"/>
<text x="51.5" y="239.5" font-size="10.2" font-weight="bold" text-anchor="start" fill="#1a1a1a" textLength="45.5" lengthAdjust="spacingAndGlyphs"  stroke="#1a1a1a" stroke-width="0.2">wild type</text>
<text x="51.0" y="250.5" font-size="10.2" font-weight="bold" text-anchor="start" fill="#1a1a1a" textLength="49" lengthAdjust="spacingAndGlyphs"  stroke="#1a1a1a" stroke-width="0.2">Thy1-aSyn</text>
<text x="194.1" y="248.7" font-size="12.5" font-weight="normal" text-anchor="start" fill="#1a1a1a" textLength="77.8" lengthAdjust="spacingAndGlyphs"  stroke="#1a1a1a" stroke-width="0.15">Basal Ganglia</text>
<line x1="91.6" y1="267.3" x2="91.6" y2="362.5" stroke="#444" stroke-width="1"/>
<line x1="88.19999999999999" y1="362.4" x2="91.6" y2="362.4" stroke="#444" stroke-width="1"/>
<text x="84.6" y="365.0" font-size="7.4" font-weight="normal" text-anchor="end" fill="#1e1e1e"  stroke="#1e1e1e" stroke-width="0.25">0</text>
<line x1="88.19999999999999" y1="343.4" x2="91.6" y2="343.4" stroke="#444" stroke-width="1"/>
<text x="84.6" y="346.0" font-size="7.4" font-weight="normal" text-anchor="end" fill="#1e1e1e"  stroke="#1e1e1e" stroke-width="0.25">10000</text>
<line x1="88.19999999999999" y1="324.4" x2="91.6" y2="324.4" stroke="#444" stroke-width="1"/>
<text x="84.6" y="327.0" font-size="7.4" font-weight="normal" text-anchor="end" fill="#1e1e1e"  stroke="#1e1e1e" stroke-width="0.25">20000</text>
<line x1="88.19999999999999" y1="305.4" x2="91.6" y2="305.4" stroke="#444" stroke-width="1"/>
<text x="84.6" y="308.0" font-size="7.4" font-weight="normal" text-anchor="end" fill="#1e1e1e"  stroke="#1e1e1e" stroke-width="0.25">30000</text>
<line x1="88.19999999999999" y1="286.4" x2="91.6" y2="286.4" stroke="#444" stroke-width="1"/>
<text x="84.6" y="289.0" font-size="7.4" font-weight="normal" text-anchor="end" fill="#1e1e1e"  stroke="#1e1e1e" stroke-width="0.25">40000</text>
<line x1="88.19999999999999" y1="267.3" x2="91.6" y2="267.3" stroke="#444" stroke-width="1"/>
<text x="84.6" y="269.90000000000003" font-size="7.4" font-weight="normal" text-anchor="end" fill="#1e1e1e"  stroke="#1e1e1e" stroke-width="0.25">50000</text>
<text x="0" y="0" transform="translate(54.00,315.5) rotate(-90)" font-size="10.75" font-weight="bold" stroke="#111" stroke-width="0.2" text-anchor="middle" fill="#111" textLength="85.5" lengthAdjust="spacingAndGlyphs">aSyn IF intensity</text>
<text x="73.6" y="379.2" font-size="9" font-weight="bold" text-anchor="start" fill="#1a1a1a" textLength="32" lengthAdjust="spacingAndGlyphs"  stroke="#1a1a1a" stroke-width="0.2">AT2101</text>
<line x1="112.85" y1="331.6" x2="112.85" y2="336.5" stroke="#555" stroke-width="1.1"/>
<line x1="109.44999999999999" y1="331.6" x2="116.25" y2="331.6" stroke="#555" stroke-width="1.1"/>
<rect x="106.8" y="336.5" width="12.100000000000009" height="26.0" fill="#b3b3b3" stroke="#4a4a4a" stroke-width="1"/>
<line x1="126.25" y1="327.8" x2="126.25" y2="332.6" stroke="#555" stroke-width="1.1"/>
<line x1="122.85" y1="327.8" x2="129.65" y2="327.8" stroke="#555" stroke-width="1.1"/>
<rect x="119.9" y="332.6" width="12.699999999999989" height="29.899999999999977" fill="#b3b3b3" stroke="#4a4a4a" stroke-width="1"/>
<line x1="139.75" y1="318.3" x2="139.75" y2="323.4" stroke="#333" stroke-width="1.1"/>
<line x1="136.35" y1="318.3" x2="143.15" y2="318.3" stroke="#333" stroke-width="1.1"/>
<rect x="133.6" y="323.4" width="12.300000000000011" height="39.10000000000002" fill="#3a3a3a" stroke="#222" stroke-width="1"/>
<line x1="153.0" y1="318.3" x2="153.0" y2="325.3" stroke="#333" stroke-width="1.1"/>
<line x1="149.6" y1="318.3" x2="156.4" y2="318.3" stroke="#333" stroke-width="1.1"/>
<rect x="146.9" y="325.3" width="12.199999999999989" height="37.19999999999999" fill="#3a3a3a" stroke="#222" stroke-width="1"/>
<text x="132.95" y="273.3" font-size="8.9" font-weight="bold" text-anchor="middle" fill="#1a1a1a"  stroke="#1a1a1a" stroke-width="0.2">SNr</text>
<text x="113.55" y="379.3" font-size="9.5" font-weight="bold" text-anchor="middle" fill="#1a1a1a"  stroke="#1a1a1a" stroke-width="0.35">-</text>
<text x="127.45" y="379.3" font-size="9.5" font-weight="bold" text-anchor="middle" fill="#1a1a1a"  stroke="#1a1a1a" stroke-width="0.35">+</text>
<text x="142.55" y="379.3" font-size="9.5" font-weight="bold" text-anchor="middle" fill="#1a1a1a"  stroke="#1a1a1a" stroke-width="0.35">-</text>
<text x="155.8" y="379.3" font-size="9.5" font-weight="bold" text-anchor="middle" fill="#1a1a1a"  stroke="#1a1a1a" stroke-width="0.35">+</text>
<line x1="180.0" y1="351.8" x2="180.0" y2="352.9" stroke="#555" stroke-width="1.1"/>
<line x1="176.6" y1="351.8" x2="183.4" y2="351.8" stroke="#555" stroke-width="1.1"/>
<rect x="173.9" y="352.9" width="12.199999999999989" height="9.600000000000023" fill="#b3b3b3" stroke="#4a4a4a" stroke-width="1"/>
<line x1="193.3" y1="348.1" x2="193.3" y2="350.7" stroke="#555" stroke-width="1.1"/>
<line x1="189.9" y1="348.1" x2="196.70000000000002" y2="348.1" stroke="#555" stroke-width="1.1"/>
<rect x="187.1" y="350.7" width="12.400000000000006" height="11.800000000000011" fill="#b3b3b3" stroke="#4a4a4a" stroke-width="1"/>
<line x1="206.7" y1="325" x2="206.7" y2="329.2" stroke="#333" stroke-width="1.1"/>
<line x1="203.29999999999998" y1="325" x2="210.1" y2="325" stroke="#333" stroke-width="1.1"/>
<rect x="200.5" y="329.2" width="12.400000000000006" height="33.30000000000001" fill="#3a3a3a" stroke="#222" stroke-width="1"/>
<line x1="220.10000000000002" y1="319.5" x2="220.10000000000002" y2="327.2" stroke="#333" stroke-width="1.1"/>
<line x1="216.70000000000002" y1="319.5" x2="223.50000000000003" y2="319.5" stroke="#333" stroke-width="1.1"/>
<rect x="213.9" y="327.2" width="12.400000000000006" height="35.30000000000001" fill="#3a3a3a" stroke="#222" stroke-width="1"/>
<text x="200.10000000000002" y="273.3" font-size="8.9" font-weight="bold" text-anchor="middle" fill="#1a1a1a"  stroke="#1a1a1a" stroke-width="0.2">SNc</text>
<text x="207.2" y="321.40000000000003" font-size="11" font-weight="bold" text-anchor="middle" fill="#222"  stroke="#222" stroke-width="0.15">**</text>
<text x="220.60000000000002" y="319.1" font-size="11" font-weight="bold" text-anchor="middle" fill="#222"  stroke="#222" stroke-width="0.15">**</text>
<text x="180.7" y="379.3" font-size="9.5" font-weight="bold" text-anchor="middle" fill="#1a1a1a"  stroke="#1a1a1a" stroke-width="0.35">-</text>
<text x="194.5" y="379.3" font-size="9.5" font-weight="bold" text-anchor="middle" fill="#1a1a1a"  stroke="#1a1a1a" stroke-width="0.35">+</text>
<text x="209.5" y="379.3" font-size="9.5" font-weight="bold" text-anchor="middle" fill="#1a1a1a"  stroke="#1a1a1a" stroke-width="0.35">-</text>
<text x="222.90000000000003" y="379.3" font-size="9.5" font-weight="bold" text-anchor="middle" fill="#1a1a1a"  stroke="#1a1a1a" stroke-width="0.35">+</text>
<line x1="247.25" y1="353.5" x2="247.25" y2="354.4" stroke="#555" stroke-width="1.1"/>
<line x1="243.85" y1="353.5" x2="250.65" y2="353.5" stroke="#555" stroke-width="1.1"/>
<rect x="241.3" y="354.4" width="11.899999999999977" height="8.100000000000023" fill="#b3b3b3" stroke="#4a4a4a" stroke-width="1"/>
<line x1="260.4" y1="349.2" x2="260.4" y2="351.2" stroke="#555" stroke-width="1.1"/>
<line x1="257.0" y1="349.2" x2="263.79999999999995" y2="349.2" stroke="#555" stroke-width="1.1"/>
<rect x="254.2" y="351.2" width="12.400000000000034" height="11.300000000000011" fill="#b3b3b3" stroke="#4a4a4a" stroke-width="1"/>
<line x1="273.8" y1="300.1" x2="273.8" y2="309.3" stroke="#333" stroke-width="1.1"/>
<line x1="270.40000000000003" y1="300.1" x2="277.2" y2="300.1" stroke="#333" stroke-width="1.1"/>
<rect x="267.6" y="309.3" width="12.399999999999977" height="53.19999999999999" fill="#3a3a3a" stroke="#222" stroke-width="1"/>
<line x1="287.35" y1="296.4" x2="287.35" y2="305" stroke="#333" stroke-width="1.1"/>
<line x1="283.95000000000005" y1="296.4" x2="290.75" y2="296.4" stroke="#333" stroke-width="1.1"/>
<rect x="281.0" y="305" width="12.699999999999989" height="57.5" fill="#3a3a3a" stroke="#222" stroke-width="1"/>
<text x="267.5" y="273.3" font-size="8.9" font-weight="bold" text-anchor="middle" fill="#1a1a1a"  stroke="#1a1a1a" stroke-width="0.2">Thalamus</text>
<text x="274.3" y="296.3" font-size="11" font-weight="bold" text-anchor="middle" fill="#222"  stroke="#222" stroke-width="0.15">**</text>
<text x="287.85" y="294.3" font-size="11" font-weight="bold" text-anchor="middle" fill="#222"  stroke="#222" stroke-width="0.15">**</text>
<text x="247.95" y="379.3" font-size="9.5" font-weight="bold" text-anchor="middle" fill="#1a1a1a"  stroke="#1a1a1a" stroke-width="0.35">-</text>
<text x="261.59999999999997" y="379.3" font-size="9.5" font-weight="bold" text-anchor="middle" fill="#1a1a1a"  stroke="#1a1a1a" stroke-width="0.35">+</text>
<text x="276.6" y="379.3" font-size="9.5" font-weight="bold" text-anchor="middle" fill="#1a1a1a"  stroke="#1a1a1a" stroke-width="0.35">-</text>
<text x="290.15000000000003" y="379.3" font-size="9.5" font-weight="bold" text-anchor="middle" fill="#1a1a1a"  stroke="#1a1a1a" stroke-width="0.35">+</text>
<line x1="313.9" y1="333" x2="313.9" y2="335.5" stroke="#555" stroke-width="1.1"/>
<line x1="310.5" y1="333" x2="317.29999999999995" y2="333" stroke="#555" stroke-width="1.1"/>
<rect x="307.5" y="335.5" width="12.800000000000011" height="27.0" fill="#b3b3b3" stroke="#4a4a4a" stroke-width="1"/>
<line x1="327.65" y1="325" x2="327.65" y2="329.5" stroke="#555" stroke-width="1.1"/>
<line x1="324.25" y1="325" x2="331.04999999999995" y2="325" stroke="#555" stroke-width="1.1"/>
<rect x="321.3" y="329.5" width="12.699999999999989" height="33.0" fill="#b3b3b3" stroke="#4a4a4a" stroke-width="1"/>
<line x1="341.2" y1="314.4" x2="341.2" y2="321.5" stroke="#333" stroke-width="1.1"/>
<line x1="337.8" y1="314.4" x2="344.59999999999997" y2="314.4" stroke="#333" stroke-width="1.1"/>
<rect x="335.0" y="321.5" width="12.399999999999977" height="41.0" fill="#3a3a3a" stroke="#222" stroke-width="1"/>
<line x1="354.75" y1="302.7" x2="354.75" y2="307.8" stroke="#333" stroke-width="1.1"/>
<line x1="351.35" y1="302.7" x2="358.15" y2="302.7" stroke="#333" stroke-width="1.1"/>
<rect x="348.4" y="307.8" width="12.700000000000045" height="54.69999999999999" fill="#3a3a3a" stroke="#222" stroke-width="1"/>
<text x="334.3" y="273.3" font-size="8.9" font-weight="bold" text-anchor="middle" fill="#1a1a1a"  stroke="#1a1a1a" stroke-width="0.2">Striatum</text>
<text x="355.25" y="300.6" font-size="11" font-weight="bold" text-anchor="middle" fill="#222"  stroke="#222" stroke-width="0.15">**</text>
<text x="314.59999999999997" y="379.3" font-size="9.5" font-weight="bold" text-anchor="middle" fill="#1a1a1a"  stroke="#1a1a1a" stroke-width="0.35">-</text>
<text x="328.84999999999997" y="379.3" font-size="9.5" font-weight="bold" text-anchor="middle" fill="#1a1a1a"  stroke="#1a1a1a" stroke-width="0.35">+</text>
<text x="344.0" y="379.3" font-size="9.5" font-weight="bold" text-anchor="middle" fill="#1a1a1a"  stroke="#1a1a1a" stroke-width="0.35">-</text>
<text x="357.55" y="379.3" font-size="9.5" font-weight="bold" text-anchor="middle" fill="#1a1a1a"  stroke="#1a1a1a" stroke-width="0.35">+</text>
<text x="540.1" y="248.1" font-size="12.5" font-weight="normal" text-anchor="start" fill="#1a1a1a" textLength="77.2" lengthAdjust="spacingAndGlyphs"  stroke="#1a1a1a" stroke-width="0.15">Hippocampus</text>
<line x1="434.9" y1="267.5" x2="434.9" y2="362.6" stroke="#444" stroke-width="1"/>
<line x1="431.5" y1="362.6" x2="434.9" y2="362.6" stroke="#444" stroke-width="1"/>
<text x="428.8" y="365.20000000000005" font-size="7.4" font-weight="normal" text-anchor="end" fill="#1e1e1e"  stroke="#1e1e1e" stroke-width="0.25">0</text>
<line x1="431.5" y1="338.6" x2="434.9" y2="338.6" stroke="#444" stroke-width="1"/>
<text x="428.8" y="341.20000000000005" font-size="7.4" font-weight="normal" text-anchor="end" fill="#1e1e1e"  stroke="#1e1e1e" stroke-width="0.25">20000</text>
<line x1="431.5" y1="314.8" x2="434.9" y2="314.8" stroke="#444" stroke-width="1"/>
<text x="428.8" y="317.40000000000003" font-size="7.4" font-weight="normal" text-anchor="end" fill="#1e1e1e"  stroke="#1e1e1e" stroke-width="0.25">40000</text>
<line x1="431.5" y1="291.1" x2="434.9" y2="291.1" stroke="#444" stroke-width="1"/>
<text x="428.8" y="293.70000000000005" font-size="7.4" font-weight="normal" text-anchor="end" fill="#1e1e1e"  stroke="#1e1e1e" stroke-width="0.25">60000</text>
<line x1="431.5" y1="267.5" x2="434.9" y2="267.5" stroke="#444" stroke-width="1"/>
<text x="428.8" y="270.1" font-size="7.4" font-weight="normal" text-anchor="end" fill="#1e1e1e"  stroke="#1e1e1e" stroke-width="0.25">80000</text>
<text x="0" y="0" transform="translate(397.80,315.2) rotate(-90)" font-size="10.75" font-weight="bold" stroke="#111" stroke-width="0.2" text-anchor="middle" fill="#111" textLength="85.2" lengthAdjust="spacingAndGlyphs">aSyn IF intensity</text>
<text x="413.9" y="378.8" font-size="9" font-weight="bold" text-anchor="start" fill="#1a1a1a" textLength="31.3" lengthAdjust="spacingAndGlyphs"  stroke="#1a1a1a" stroke-width="0.2">AT2101</text>
<line x1="455.1" y1="337.2" x2="455.1" y2="338.2" stroke="#555" stroke-width="1.1"/>
<line x1="451.70000000000005" y1="337.2" x2="458.5" y2="337.2" stroke="#555" stroke-width="1.1"/>
<rect x="448.7" y="338.2" width="12.800000000000011" height="24.400000000000034" fill="#b3b3b3" stroke="#4a4a4a" stroke-width="1"/>
<line x1="468.65" y1="327.5" x2="468.65" y2="331.2" stroke="#555" stroke-width="1.1"/>
<line x1="465.25" y1="327.5" x2="472.04999999999995" y2="327.5" stroke="#555" stroke-width="1.1"/>
<rect x="462.5" y="331.2" width="12.300000000000011" height="31.400000000000034" fill="#b3b3b3" stroke="#4a4a4a" stroke-width="1"/>
<line x1="482.05" y1="309.4" x2="482.05" y2="315.2" stroke="#333" stroke-width="1.1"/>
<line x1="478.65000000000003" y1="309.4" x2="485.45" y2="309.4" stroke="#333" stroke-width="1.1"/>
<rect x="475.8" y="315.2" width="12.5" height="47.400000000000034" fill="#3a3a3a" stroke="#222" stroke-width="1"/>
<line x1="495.6" y1="305.9" x2="495.6" y2="310.9" stroke="#333" stroke-width="1.1"/>
<line x1="492.20000000000005" y1="305.9" x2="499.0" y2="305.9" stroke="#333" stroke-width="1.1"/>
<rect x="489.3" y="310.9" width="12.599999999999966" height="51.700000000000045" fill="#3a3a3a" stroke="#222" stroke-width="1"/>
<text x="475.29999999999995" y="272.3" font-size="8.9" font-weight="bold" text-anchor="middle" fill="#1a1a1a"  stroke="#1a1a1a" stroke-width="0.2">Dentate Gyrus</text>
<text x="482.55" y="305.0" font-size="11" font-weight="bold" text-anchor="middle" fill="#222"  stroke="#222" stroke-width="0.15">**</text>
<text x="496.1" y="302.5" font-size="11" font-weight="bold" text-anchor="middle" fill="#222"  stroke="#222" stroke-width="0.15">**</text>
<text x="455.8" y="378.8" font-size="9.5" font-weight="bold" text-anchor="middle" fill="#1a1a1a"  stroke="#1a1a1a" stroke-width="0.35">-</text>
<text x="469.84999999999997" y="378.8" font-size="9.5" font-weight="bold" text-anchor="middle" fill="#1a1a1a"  stroke="#1a1a1a" stroke-width="0.35">+</text>
<text x="484.85" y="378.8" font-size="9.5" font-weight="bold" text-anchor="middle" fill="#1a1a1a"  stroke="#1a1a1a" stroke-width="0.35">-</text>
<text x="498.40000000000003" y="378.8" font-size="9.5" font-weight="bold" text-anchor="middle" fill="#1a1a1a"  stroke="#1a1a1a" stroke-width="0.35">+</text>
<line x1="522.05" y1="338.5" x2="522.05" y2="340.6" stroke="#555" stroke-width="1.1"/>
<line x1="518.65" y1="338.5" x2="525.4499999999999" y2="338.5" stroke="#555" stroke-width="1.1"/>
<rect x="515.7" y="340.6" width="12.699999999999932" height="22.0" fill="#b3b3b3" stroke="#4a4a4a" stroke-width="1"/>
<line x1="535.5999999999999" y1="325.9" x2="535.5999999999999" y2="331.2" stroke="#555" stroke-width="1.1"/>
<line x1="532.1999999999999" y1="325.9" x2="538.9999999999999" y2="325.9" stroke="#555" stroke-width="1.1"/>
<rect x="529.4" y="331.2" width="12.399999999999977" height="31.400000000000034" fill="#b3b3b3" stroke="#4a4a4a" stroke-width="1"/>
<line x1="549.0" y1="304.7" x2="549.0" y2="310.3" stroke="#333" stroke-width="1.1"/>
<line x1="545.6" y1="304.7" x2="552.4" y2="304.7" stroke="#333" stroke-width="1.1"/>
<rect x="542.8" y="310.3" width="12.400000000000091" height="52.30000000000001" fill="#3a3a3a" stroke="#222" stroke-width="1"/>
<line x1="562.5" y1="303.9" x2="562.5" y2="309.5" stroke="#333" stroke-width="1.1"/>
<line x1="559.1" y1="303.9" x2="565.9" y2="303.9" stroke="#333" stroke-width="1.1"/>
<rect x="556.2" y="309.5" width="12.599999999999909" height="53.10000000000002" fill="#3a3a3a" stroke="#222" stroke-width="1"/>
<text x="542.25" y="272.3" font-size="8.9" font-weight="bold" text-anchor="middle" fill="#1a1a1a"  stroke="#1a1a1a" stroke-width="0.2">HC CA1</text>
<text x="549.5" y="298.5" font-size="11" font-weight="bold" text-anchor="middle" fill="#222"  stroke="#222" stroke-width="0.15">**</text>
<text x="563.0" y="298.5" font-size="11" font-weight="bold" text-anchor="middle" fill="#222"  stroke="#222" stroke-width="0.15">**</text>
<text x="522.75" y="378.8" font-size="9.5" font-weight="bold" text-anchor="middle" fill="#1a1a1a"  stroke="#1a1a1a" stroke-width="0.35">-</text>
<text x="536.8" y="378.8" font-size="9.5" font-weight="bold" text-anchor="middle" fill="#1a1a1a"  stroke="#1a1a1a" stroke-width="0.35">+</text>
<text x="551.8" y="378.8" font-size="9.5" font-weight="bold" text-anchor="middle" fill="#1a1a1a"  stroke="#1a1a1a" stroke-width="0.35">-</text>
<text x="565.3" y="378.8" font-size="9.5" font-weight="bold" text-anchor="middle" fill="#1a1a1a"  stroke="#1a1a1a" stroke-width="0.35">+</text>
<line x1="588.9000000000001" y1="333.6" x2="588.9000000000001" y2="335.8" stroke="#555" stroke-width="1.1"/>
<line x1="585.5000000000001" y1="333.6" x2="592.3000000000001" y2="333.6" stroke="#555" stroke-width="1.1"/>
<rect x="582.7" y="335.8" width="12.399999999999977" height="26.80000000000001" fill="#b3b3b3" stroke="#4a4a4a" stroke-width="1"/>
<line x1="602.45" y1="322.9" x2="602.45" y2="328.3" stroke="#555" stroke-width="1.1"/>
<line x1="599.0500000000001" y1="322.9" x2="605.85" y2="322.9" stroke="#555" stroke-width="1.1"/>
<rect x="596.1" y="328.3" width="12.699999999999932" height="34.30000000000001" fill="#b3b3b3" stroke="#4a4a4a" stroke-width="1"/>
<line x1="616.0" y1="307.6" x2="616.0" y2="314.3" stroke="#333" stroke-width="1.1"/>
<line x1="612.6" y1="307.6" x2="619.4" y2="307.6" stroke="#333" stroke-width="1.1"/>
<rect x="609.8" y="314.3" width="12.400000000000091" height="48.30000000000001" fill="#3a3a3a" stroke="#222" stroke-width="1"/>
<line x1="629.55" y1="300.9" x2="629.55" y2="305.5" stroke="#333" stroke-width="1.1"/>
<line x1="626.15" y1="300.9" x2="632.9499999999999" y2="300.9" stroke="#333" stroke-width="1.1"/>
<rect x="623.2" y="305.5" width="12.699999999999932" height="57.10000000000002" fill="#3a3a3a" stroke="#222" stroke-width="1"/>
<text x="609.3" y="272.3" font-size="8.9" font-weight="bold" text-anchor="middle" fill="#1a1a1a"  stroke="#1a1a1a" stroke-width="0.2">HC CA2</text>
<text x="616.5" y="303.3" font-size="11" font-weight="bold" text-anchor="middle" fill="#222"  stroke="#222" stroke-width="0.15">**</text>
<text x="630.05" y="298.0" font-size="11" font-weight="bold" text-anchor="middle" fill="#222"  stroke="#222" stroke-width="0.15">**</text>
<text x="589.6000000000001" y="378.8" font-size="9.5" font-weight="bold" text-anchor="middle" fill="#1a1a1a"  stroke="#1a1a1a" stroke-width="0.35">-</text>
<text x="603.6500000000001" y="378.8" font-size="9.5" font-weight="bold" text-anchor="middle" fill="#1a1a1a"  stroke="#1a1a1a" stroke-width="0.35">+</text>
<text x="618.8" y="378.8" font-size="9.5" font-weight="bold" text-anchor="middle" fill="#1a1a1a"  stroke="#1a1a1a" stroke-width="0.35">-</text>
<text x="632.3499999999999" y="378.8" font-size="9.5" font-weight="bold" text-anchor="middle" fill="#1a1a1a"  stroke="#1a1a1a" stroke-width="0.35">+</text>
<line x1="655.9000000000001" y1="331.8" x2="655.9000000000001" y2="334.5" stroke="#555" stroke-width="1.1"/>
<line x1="652.5000000000001" y1="331.8" x2="659.3000000000001" y2="331.8" stroke="#555" stroke-width="1.1"/>
<rect x="649.7" y="334.5" width="12.399999999999977" height="28.100000000000023" fill="#b3b3b3" stroke="#4a4a4a" stroke-width="1"/>
<line x1="669.3" y1="321.8" x2="669.3" y2="327.5" stroke="#555" stroke-width="1.1"/>
<line x1="665.9" y1="321.8" x2="672.6999999999999" y2="321.8" stroke="#555" stroke-width="1.1"/>
<rect x="663.1" y="327.5" width="12.399999999999977" height="35.10000000000002" fill="#b3b3b3" stroke="#4a4a4a" stroke-width="1"/>
<line x1="682.75" y1="307.6" x2="682.75" y2="314.3" stroke="#333" stroke-width="1.1"/>
<line x1="679.35" y1="307.6" x2="686.15" y2="307.6" stroke="#333" stroke-width="1.1"/>
<rect x="676.5" y="314.3" width="12.5" height="48.30000000000001" fill="#3a3a3a" stroke="#222" stroke-width="1"/>
<line x1="696.2" y1="297.5" x2="696.2" y2="303.1" stroke="#333" stroke-width="1.1"/>
<line x1="692.8000000000001" y1="297.5" x2="699.6" y2="297.5" stroke="#333" stroke-width="1.1"/>
<rect x="690.0" y="303.1" width="12.399999999999977" height="59.5" fill="#3a3a3a" stroke="#222" stroke-width="1"/>
<text x="676.05" y="272.3" font-size="8.9" font-weight="bold" text-anchor="middle" fill="#1a1a1a"  stroke="#1a1a1a" stroke-width="0.2">HC CA3</text>
<text x="683.25" y="303.3" font-size="11" font-weight="bold" text-anchor="middle" fill="#222"  stroke="#222" stroke-width="0.15">**</text>
<text x="696.7" y="295.8" font-size="11" font-weight="bold" text-anchor="middle" fill="#222"  stroke="#222" stroke-width="0.15">**</text>
<text x="656.6000000000001" y="378.8" font-size="9.5" font-weight="bold" text-anchor="middle" fill="#1a1a1a"  stroke="#1a1a1a" stroke-width="0.35">-</text>
<text x="670.5" y="378.8" font-size="9.5" font-weight="bold" text-anchor="middle" fill="#1a1a1a"  stroke="#1a1a1a" stroke-width="0.35">+</text>
<text x="685.55" y="378.8" font-size="9.5" font-weight="bold" text-anchor="middle" fill="#1a1a1a"  stroke="#1a1a1a" stroke-width="0.35">-</text>
<text x="699.0" y="378.8" font-size="9.5" font-weight="bold" text-anchor="middle" fill="#1a1a1a"  stroke="#1a1a1a" stroke-width="0.35">+</text>
<text x="175.3" y="408.8" font-size="12.5" font-weight="normal" text-anchor="start" fill="#1a1a1a" textLength="78.8" lengthAdjust="spacingAndGlyphs"  stroke="#1a1a1a" stroke-width="0.15">Olfactory Bulb</text>
<line x1="70.8" y1="425.3" x2="70.8" y2="520.5" stroke="#444" stroke-width="1"/>
<line x1="67.39999999999999" y1="520.5" x2="70.8" y2="520.5" stroke="#444" stroke-width="1"/>
<text x="64.0" y="523.1" font-size="7.4" font-weight="normal" text-anchor="end" fill="#1e1e1e"  stroke="#1e1e1e" stroke-width="0.25">0</text>
<line x1="67.39999999999999" y1="504.6" x2="70.8" y2="504.6" stroke="#444" stroke-width="1"/>
<text x="64.0" y="507.20000000000005" font-size="7.4" font-weight="normal" text-anchor="end" fill="#1e1e1e"  stroke="#1e1e1e" stroke-width="0.25">10000</text>
<line x1="67.39999999999999" y1="488.8" x2="70.8" y2="488.8" stroke="#444" stroke-width="1"/>
<text x="64.0" y="491.40000000000003" font-size="7.4" font-weight="normal" text-anchor="end" fill="#1e1e1e"  stroke="#1e1e1e" stroke-width="0.25">20000</text>
<line x1="67.39999999999999" y1="472.9" x2="70.8" y2="472.9" stroke="#444" stroke-width="1"/>
<text x="64.0" y="475.5" font-size="7.4" font-weight="normal" text-anchor="end" fill="#1e1e1e"  stroke="#1e1e1e" stroke-width="0.25">30000</text>
<line x1="67.39999999999999" y1="457.0" x2="70.8" y2="457.0" stroke="#444" stroke-width="1"/>
<text x="64.0" y="459.6" font-size="7.4" font-weight="normal" text-anchor="end" fill="#1e1e1e"  stroke="#1e1e1e" stroke-width="0.25">40000</text>
<line x1="67.39999999999999" y1="441.2" x2="70.8" y2="441.2" stroke="#444" stroke-width="1"/>
<text x="64.0" y="443.8" font-size="7.4" font-weight="normal" text-anchor="end" fill="#1e1e1e"  stroke="#1e1e1e" stroke-width="0.25">50000</text>
<line x1="67.39999999999999" y1="425.3" x2="70.8" y2="425.3" stroke="#444" stroke-width="1"/>
<text x="64.0" y="427.90000000000003" font-size="7.4" font-weight="normal" text-anchor="end" fill="#1e1e1e"  stroke="#1e1e1e" stroke-width="0.25">60000</text>
<text x="0" y="0" transform="translate(32.20,472.9) rotate(-90)" font-size="10.75" font-weight="bold" stroke="#111" stroke-width="0.2" text-anchor="middle" fill="#111" textLength="85.8" lengthAdjust="spacingAndGlyphs">aSyn IF intensity</text>
<text x="50.6" y="537.3" font-size="9" font-weight="bold" text-anchor="start" fill="#1a1a1a" textLength="30.9" lengthAdjust="spacingAndGlyphs"  stroke="#1a1a1a" stroke-width="0.2">AT2101</text>
<line x1="90.85" y1="483.2" x2="90.85" y2="487.1" stroke="#555" stroke-width="1.1"/>
<line x1="87.44999999999999" y1="483.2" x2="94.25" y2="483.2" stroke="#555" stroke-width="1.1"/>
<rect x="84.6" y="487.1" width="12.5" height="33.39999999999998" fill="#b3b3b3" stroke="#4a4a4a" stroke-width="1"/>
<line x1="104.35" y1="475.3" x2="104.35" y2="479.1" stroke="#555" stroke-width="1.1"/>
<line x1="100.94999999999999" y1="475.3" x2="107.75" y2="475.3" stroke="#555" stroke-width="1.1"/>
<rect x="98.1" y="479.1" width="12.5" height="41.39999999999998" fill="#b3b3b3" stroke="#4a4a4a" stroke-width="1"/>
<line x1="117.94999999999999" y1="450.8" x2="117.94999999999999" y2="454.9" stroke="#333" stroke-width="1.1"/>
<line x1="114.54999999999998" y1="450.8" x2="121.35" y2="450.8" stroke="#333" stroke-width="1.1"/>
<rect x="111.6" y="454.9" width="12.700000000000003" height="65.60000000000002" fill="#3a3a3a" stroke="#222" stroke-width="1"/>
<line x1="131.7" y1="446.3" x2="131.7" y2="450.2" stroke="#333" stroke-width="1.1"/>
<line x1="128.29999999999998" y1="446.3" x2="135.1" y2="446.3" stroke="#333" stroke-width="1.1"/>
<rect x="125.3" y="450.2" width="12.799999999999997" height="70.30000000000001" fill="#3a3a3a" stroke="#222" stroke-width="1"/>
<text x="111.35" y="428.5" font-size="8.9" font-weight="bold" text-anchor="middle" fill="#1a1a1a"  stroke="#1a1a1a" stroke-width="0.2">ant olf nucl</text>
<text x="118.44999999999999" y="448.5" font-size="11" font-weight="bold" text-anchor="middle" fill="#222"  stroke="#222" stroke-width="0.15">**</text>
<text x="132.2" y="444.6" font-size="11" font-weight="bold" text-anchor="middle" fill="#222"  stroke="#222" stroke-width="0.15">**</text>
<text x="91.55" y="537.4" font-size="9.5" font-weight="bold" text-anchor="middle" fill="#1a1a1a"  stroke="#1a1a1a" stroke-width="0.35">-</text>
<text x="105.55" y="537.4" font-size="9.5" font-weight="bold" text-anchor="middle" fill="#1a1a1a"  stroke="#1a1a1a" stroke-width="0.35">+</text>
<text x="120.74999999999999" y="537.4" font-size="9.5" font-weight="bold" text-anchor="middle" fill="#1a1a1a"  stroke="#1a1a1a" stroke-width="0.35">-</text>
<text x="134.5" y="537.4" font-size="9.5" font-weight="bold" text-anchor="middle" fill="#1a1a1a"  stroke="#1a1a1a" stroke-width="0.35">+</text>
<line x1="158.55" y1="489.5" x2="158.55" y2="492.3" stroke="#555" stroke-width="1.1"/>
<line x1="155.15" y1="489.5" x2="161.95000000000002" y2="489.5" stroke="#555" stroke-width="1.1"/>
<rect x="152.3" y="492.3" width="12.5" height="28.19999999999999" fill="#b3b3b3" stroke="#4a4a4a" stroke-width="1"/>
<line x1="172.2" y1="484.5" x2="172.2" y2="488.7" stroke="#555" stroke-width="1.1"/>
<line x1="168.79999999999998" y1="484.5" x2="175.6" y2="484.5" stroke="#555" stroke-width="1.1"/>
<rect x="165.8" y="488.7" width="12.799999999999983" height="31.80000000000001" fill="#b3b3b3" stroke="#4a4a4a" stroke-width="1"/>
<line x1="186.0" y1="473.8" x2="186.0" y2="478.8" stroke="#333" stroke-width="1.1"/>
<line x1="182.6" y1="473.8" x2="189.4" y2="473.8" stroke="#333" stroke-width="1.1"/>
<rect x="179.6" y="478.8" width="12.800000000000011" height="41.69999999999999" fill="#3a3a3a" stroke="#222" stroke-width="1"/>
<line x1="199.8" y1="475.5" x2="199.8" y2="479.4" stroke="#333" stroke-width="1.1"/>
<line x1="196.4" y1="475.5" x2="203.20000000000002" y2="475.5" stroke="#333" stroke-width="1.1"/>
<rect x="193.4" y="479.4" width="12.799999999999983" height="41.10000000000002" fill="#3a3a3a" stroke="#222" stroke-width="1"/>
<text x="179.25" y="428.5" font-size="8.9" font-weight="bold" text-anchor="middle" fill="#1a1a1a"  stroke="#1a1a1a" stroke-width="0.2">gran cells</text>
<text x="186.5" y="472.3" font-size="11" font-weight="bold" text-anchor="middle" fill="#222"  stroke="#222" stroke-width="0.15">*</text>
<text x="159.25" y="537.4" font-size="9.5" font-weight="bold" text-anchor="middle" fill="#1a1a1a"  stroke="#1a1a1a" stroke-width="0.35">-</text>
<text x="173.39999999999998" y="537.4" font-size="9.5" font-weight="bold" text-anchor="middle" fill="#1a1a1a"  stroke="#1a1a1a" stroke-width="0.35">+</text>
<text x="188.8" y="537.4" font-size="9.5" font-weight="bold" text-anchor="middle" fill="#1a1a1a"  stroke="#1a1a1a" stroke-width="0.35">-</text>
<text x="202.60000000000002" y="537.4" font-size="9.5" font-weight="bold" text-anchor="middle" fill="#1a1a1a"  stroke="#1a1a1a" stroke-width="0.35">+</text>
<line x1="226.85" y1="482.2" x2="226.85" y2="484.5" stroke="#555" stroke-width="1.1"/>
<line x1="223.45" y1="482.2" x2="230.25" y2="482.2" stroke="#555" stroke-width="1.1"/>
<rect x="220.7" y="484.5" width="12.300000000000011" height="36.0" fill="#b3b3b3" stroke="#4a4a4a" stroke-width="1"/>
<line x1="240.25" y1="478.5" x2="240.25" y2="482.5" stroke="#555" stroke-width="1.1"/>
<line x1="236.85" y1="478.5" x2="243.65" y2="478.5" stroke="#555" stroke-width="1.1"/>
<rect x="234.0" y="482.5" width="12.5" height="38.0" fill="#b3b3b3" stroke="#4a4a4a" stroke-width="1"/>
<line x1="253.9" y1="467.6" x2="253.9" y2="475.5" stroke="#333" stroke-width="1.1"/>
<line x1="250.5" y1="467.6" x2="257.3" y2="467.6" stroke="#333" stroke-width="1.1"/>
<rect x="247.5" y="475.5" width="12.800000000000011" height="45.0" fill="#3a3a3a" stroke="#222" stroke-width="1"/>
<line x1="267.70000000000005" y1="477.7" x2="267.70000000000005" y2="482.2" stroke="#333" stroke-width="1.1"/>
<line x1="264.30000000000007" y1="477.7" x2="271.1" y2="477.7" stroke="#333" stroke-width="1.1"/>
<rect x="261.3" y="482.2" width="12.800000000000011" height="38.30000000000001" fill="#3a3a3a" stroke="#222" stroke-width="1"/>
<text x="247.4" y="428.5" font-size="8.9" font-weight="bold" text-anchor="middle" fill="#1a1a1a"  stroke="#1a1a1a" stroke-width="0.2">ext plexif layer</text>
<text x="227.54999999999998" y="537.4" font-size="9.5" font-weight="bold" text-anchor="middle" fill="#1a1a1a"  stroke="#1a1a1a" stroke-width="0.35">-</text>
<text x="241.45" y="537.4" font-size="9.5" font-weight="bold" text-anchor="middle" fill="#1a1a1a"  stroke="#1a1a1a" stroke-width="0.35">+</text>
<text x="256.7" y="537.4" font-size="9.5" font-weight="bold" text-anchor="middle" fill="#1a1a1a"  stroke="#1a1a1a" stroke-width="0.35">-</text>
<text x="270.50000000000006" y="537.4" font-size="9.5" font-weight="bold" text-anchor="middle" fill="#1a1a1a"  stroke="#1a1a1a" stroke-width="0.35">+</text>
<line x1="294.4" y1="486.4" x2="294.4" y2="489.5" stroke="#555" stroke-width="1.1"/>
<line x1="291.0" y1="486.4" x2="297.79999999999995" y2="486.4" stroke="#555" stroke-width="1.1"/>
<rect x="288.0" y="489.5" width="12.800000000000011" height="31.0" fill="#b3b3b3" stroke="#4a4a4a" stroke-width="1"/>
<line x1="308.05" y1="479.1" x2="308.05" y2="483" stroke="#555" stroke-width="1.1"/>
<line x1="304.65000000000003" y1="479.1" x2="311.45" y2="479.1" stroke="#555" stroke-width="1.1"/>
<rect x="301.8" y="483" width="12.5" height="37.5" fill="#b3b3b3" stroke="#4a4a4a" stroke-width="1"/>
<line x1="321.70000000000005" y1="475.5" x2="321.70000000000005" y2="481.6" stroke="#333" stroke-width="1.1"/>
<line x1="318.30000000000007" y1="475.5" x2="325.1" y2="475.5" stroke="#333" stroke-width="1.1"/>
<rect x="315.3" y="481.6" width="12.800000000000011" height="38.89999999999998" fill="#3a3a3a" stroke="#222" stroke-width="1"/>
<line x1="335.5" y1="492.1" x2="335.5" y2="493.8" stroke="#333" stroke-width="1.1"/>
<line x1="332.1" y1="492.1" x2="338.9" y2="492.1" stroke="#333" stroke-width="1.1"/>
<rect x="329.1" y="493.8" width="12.799999999999955" height="26.69999999999999" fill="#3a3a3a" stroke="#222" stroke-width="1"/>
<text x="314.95" y="428.5" font-size="8.9" font-weight="bold" text-anchor="middle" fill="#1a1a1a"  stroke="#1a1a1a" stroke-width="0.2">glom layer</text>
<text x="295.09999999999997" y="537.4" font-size="9.5" font-weight="bold" text-anchor="middle" fill="#1a1a1a"  stroke="#1a1a1a" stroke-width="0.35">-</text>
<text x="309.25" y="537.4" font-size="9.5" font-weight="bold" text-anchor="middle" fill="#1a1a1a"  stroke="#1a1a1a" stroke-width="0.35">+</text>
<text x="324.50000000000006" y="537.4" font-size="9.5" font-weight="bold" text-anchor="middle" fill="#1a1a1a"  stroke="#1a1a1a" stroke-width="0.35">-</text>
<text x="338.3" y="537.4" font-size="9.5" font-weight="bold" text-anchor="middle" fill="#1a1a1a"  stroke="#1a1a1a" stroke-width="0.35">+</text>
<text x="492.2" y="408.6" font-size="12.5" font-weight="normal" text-anchor="start" fill="#1a1a1a" textLength="37.1" lengthAdjust="spacingAndGlyphs"  stroke="#1a1a1a" stroke-width="0.15">Cortex</text>
<line x1="405.5" y1="423.2" x2="405.5" y2="518.9" stroke="#444" stroke-width="1"/>
<line x1="402.1" y1="518.9" x2="405.5" y2="518.9" stroke="#444" stroke-width="1"/>
<text x="399.3" y="521.5" font-size="7.4" font-weight="normal" text-anchor="end" fill="#1e1e1e"  stroke="#1e1e1e" stroke-width="0.25">0</text>
<line x1="402.1" y1="502.9" x2="405.5" y2="502.9" stroke="#444" stroke-width="1"/>
<text x="399.3" y="505.5" font-size="7.4" font-weight="normal" text-anchor="end" fill="#1e1e1e"  stroke="#1e1e1e" stroke-width="0.25">10000</text>
<line x1="402.1" y1="487.0" x2="405.5" y2="487.0" stroke="#444" stroke-width="1"/>
<text x="399.3" y="489.6" font-size="7.4" font-weight="normal" text-anchor="end" fill="#1e1e1e"  stroke="#1e1e1e" stroke-width="0.25">20000</text>
<line x1="402.1" y1="471.0" x2="405.5" y2="471.0" stroke="#444" stroke-width="1"/>
<text x="399.3" y="473.6" font-size="7.4" font-weight="normal" text-anchor="end" fill="#1e1e1e"  stroke="#1e1e1e" stroke-width="0.25">30000</text>
<line x1="402.1" y1="455.1" x2="405.5" y2="455.1" stroke="#444" stroke-width="1"/>
<text x="399.3" y="457.70000000000005" font-size="7.4" font-weight="normal" text-anchor="end" fill="#1e1e1e"  stroke="#1e1e1e" stroke-width="0.25">40000</text>
<line x1="402.1" y1="439.1" x2="405.5" y2="439.1" stroke="#444" stroke-width="1"/>
<text x="399.3" y="441.70000000000005" font-size="7.4" font-weight="normal" text-anchor="end" fill="#1e1e1e"  stroke="#1e1e1e" stroke-width="0.25">50000</text>
<line x1="402.1" y1="423.2" x2="405.5" y2="423.2" stroke="#444" stroke-width="1"/>
<text x="399.3" y="425.8" font-size="7.4" font-weight="normal" text-anchor="end" fill="#1e1e1e"  stroke="#1e1e1e" stroke-width="0.25">60000</text>
<text x="0" y="0" transform="translate(368.30,471.3) rotate(-90)" font-size="10.75" font-weight="bold" stroke="#111" stroke-width="0.2" text-anchor="middle" fill="#111" textLength="84" lengthAdjust="spacingAndGlyphs">aSyn IF intensity</text>
<text x="384.3" y="535.5" font-size="9" font-weight="bold" text-anchor="start" fill="#1a1a1a" textLength="31.9" lengthAdjust="spacingAndGlyphs"  stroke="#1a1a1a" stroke-width="0.2">AT2101</text>
<line x1="424.35" y1="487.1" x2="424.35" y2="490.8" stroke="#555" stroke-width="1.1"/>
<line x1="420.95000000000005" y1="487.1" x2="427.75" y2="487.1" stroke="#555" stroke-width="1.1"/>
<rect x="418.1" y="490.8" width="12.5" height="28.099999999999966" fill="#b3b3b3" stroke="#4a4a4a" stroke-width="1"/>
<line x1="437.70000000000005" y1="480.7" x2="437.70000000000005" y2="483.5" stroke="#555" stroke-width="1.1"/>
<line x1="434.30000000000007" y1="480.7" x2="441.1" y2="480.7" stroke="#555" stroke-width="1.1"/>
<rect x="431.6" y="483.5" width="12.199999999999989" height="35.39999999999998" fill="#b3b3b3" stroke="#4a4a4a" stroke-width="1"/>
<line x1="451.05" y1="446.3" x2="451.05" y2="449.1" stroke="#333" stroke-width="1.1"/>
<line x1="447.65000000000003" y1="446.3" x2="454.45" y2="446.3" stroke="#333" stroke-width="1.1"/>
<rect x="444.8" y="449.1" width="12.5" height="69.79999999999995" fill="#3a3a3a" stroke="#222" stroke-width="1"/>
<line x1="464.70000000000005" y1="442.6" x2="464.70000000000005" y2="449.1" stroke="#333" stroke-width="1.1"/>
<line x1="461.30000000000007" y1="442.6" x2="468.1" y2="442.6" stroke="#333" stroke-width="1.1"/>
<rect x="458.3" y="449.1" width="12.800000000000011" height="69.79999999999995" fill="#3a3a3a" stroke="#222" stroke-width="1"/>
<text x="444.6" y="426.4" font-size="8.9" font-weight="bold" text-anchor="middle" fill="#1a1a1a"  stroke="#1a1a1a" stroke-width="0.2">Orb/Assoc Ctx</text>
<text x="451.55" y="442.1" font-size="11" font-weight="bold" text-anchor="middle" fill="#222"  stroke="#222" stroke-width="0.15">**</text>
<text x="465.20000000000005" y="442.1" font-size="11" font-weight="bold" text-anchor="middle" fill="#222"  stroke="#222" stroke-width="0.15">**</text>
<text x="426.45" y="535.6" font-size="9.5" font-weight="bold" text-anchor="middle" fill="#1a1a1a"  stroke="#1a1a1a" stroke-width="0.35">-</text>
<text x="440.3" y="535.6" font-size="9.5" font-weight="bold" text-anchor="middle" fill="#1a1a1a"  stroke="#1a1a1a" stroke-width="0.35">+</text>
<text x="455.25" y="535.6" font-size="9.5" font-weight="bold" text-anchor="middle" fill="#1a1a1a"  stroke="#1a1a1a" stroke-width="0.35">-</text>
<text x="468.90000000000003" y="535.6" font-size="9.5" font-weight="bold" text-anchor="middle" fill="#1a1a1a"  stroke="#1a1a1a" stroke-width="0.35">+</text>
<line x1="491.85" y1="497.8" x2="491.85" y2="499" stroke="#555" stroke-width="1.1"/>
<line x1="488.45000000000005" y1="497.8" x2="495.25" y2="497.8" stroke="#555" stroke-width="1.1"/>
<rect x="485.6" y="499" width="12.5" height="19.899999999999977" fill="#b3b3b3" stroke="#4a4a4a" stroke-width="1"/>
<line x1="505.5" y1="485.2" x2="505.5" y2="489.1" stroke="#555" stroke-width="1.1"/>
<line x1="502.1" y1="485.2" x2="508.9" y2="485.2" stroke="#555" stroke-width="1.1"/>
<rect x="499.1" y="489.1" width="12.799999999999955" height="29.799999999999955" fill="#b3b3b3" stroke="#4a4a4a" stroke-width="1"/>
<line x1="519.2" y1="451.4" x2="519.2" y2="458.4" stroke="#333" stroke-width="1.1"/>
<line x1="515.8000000000001" y1="451.4" x2="522.6" y2="451.4" stroke="#333" stroke-width="1.1"/>
<rect x="512.9" y="458.4" width="12.600000000000023" height="60.5" fill="#3a3a3a" stroke="#222" stroke-width="1"/>
<line x1="532.75" y1="456.7" x2="532.75" y2="460.9" stroke="#333" stroke-width="1.1"/>
<line x1="529.35" y1="456.7" x2="536.15" y2="456.7" stroke="#333" stroke-width="1.1"/>
<rect x="526.5" y="460.9" width="12.5" height="58.0" fill="#3a3a3a" stroke="#222" stroke-width="1"/>
<text x="512.3" y="426.4" font-size="8.9" font-weight="bold" text-anchor="middle" fill="#1a1a1a"  stroke="#1a1a1a" stroke-width="0.2">Motor Ctx</text>
<text x="519.7" y="448.5" font-size="11" font-weight="bold" text-anchor="middle" fill="#222"  stroke="#222" stroke-width="0.15">**</text>
<text x="533.25" y="451.90000000000003" font-size="11" font-weight="bold" text-anchor="middle" fill="#222"  stroke="#222" stroke-width="0.15">**</text>
<text x="493.75" y="535.6" font-size="9.5" font-weight="bold" text-anchor="middle" fill="#1a1a1a"  stroke="#1a1a1a" stroke-width="0.35">-</text>
<text x="507.9" y="535.6" font-size="9.5" font-weight="bold" text-anchor="middle" fill="#1a1a1a"  stroke="#1a1a1a" stroke-width="0.35">+</text>
<text x="523.2" y="535.6" font-size="9.5" font-weight="bold" text-anchor="middle" fill="#1a1a1a"  stroke="#1a1a1a" stroke-width="0.35">-</text>
<text x="536.75" y="535.6" font-size="9.5" font-weight="bold" text-anchor="middle" fill="#1a1a1a"  stroke="#1a1a1a" stroke-width="0.35">+</text>
<line x1="559.3" y1="497.2" x2="559.3" y2="499.1" stroke="#555" stroke-width="1.1"/>
<line x1="555.9" y1="497.2" x2="562.6999999999999" y2="497.2" stroke="#555" stroke-width="1.1"/>
<rect x="552.9" y="499.1" width="12.800000000000068" height="19.799999999999955" fill="#b3b3b3" stroke="#4a4a4a" stroke-width="1"/>
<line x1="573.1" y1="490" x2="573.1" y2="493" stroke="#555" stroke-width="1.1"/>
<line x1="569.7" y1="490" x2="576.5" y2="490" stroke="#555" stroke-width="1.1"/>
<rect x="566.7" y="493" width="12.799999999999955" height="25.899999999999977" fill="#b3b3b3" stroke="#4a4a4a" stroke-width="1"/>
<line x1="586.95" y1="462.4" x2="586.95" y2="467.9" stroke="#333" stroke-width="1.1"/>
<line x1="583.5500000000001" y1="462.4" x2="590.35" y2="462.4" stroke="#333" stroke-width="1.1"/>
<rect x="580.5" y="467.9" width="12.899999999999977" height="51.0" fill="#3a3a3a" stroke="#222" stroke-width="1"/>
<line x1="600.8" y1="463.2" x2="600.8" y2="467.9" stroke="#333" stroke-width="1.1"/>
<line x1="597.4" y1="463.2" x2="604.1999999999999" y2="463.2" stroke="#333" stroke-width="1.1"/>
<rect x="594.4" y="467.9" width="12.800000000000068" height="51.0" fill="#3a3a3a" stroke="#222" stroke-width="1"/>
<text x="580.05" y="426.4" font-size="8.9" font-weight="bold" text-anchor="middle" fill="#1a1a1a"  stroke="#1a1a1a" stroke-width="0.2">Sensory Ctx</text>
<text x="587.45" y="461.1" font-size="11" font-weight="bold" text-anchor="middle" fill="#222"  stroke="#222" stroke-width="0.15">**</text>
<text x="601.3" y="461.1" font-size="11" font-weight="bold" text-anchor="middle" fill="#222"  stroke="#222" stroke-width="0.15">**</text>
<text x="562.0" y="535.6" font-size="9.5" font-weight="bold" text-anchor="middle" fill="#1a1a1a"  stroke="#1a1a1a" stroke-width="0.35">-</text>
<text x="576.3000000000001" y="535.6" font-size="9.5" font-weight="bold" text-anchor="middle" fill="#1a1a1a"  stroke="#1a1a1a" stroke-width="0.35">+</text>
<text x="591.75" y="535.6" font-size="9.5" font-weight="bold" text-anchor="middle" fill="#1a1a1a"  stroke="#1a1a1a" stroke-width="0.35">-</text>
<text x="605.5999999999999" y="535.6" font-size="9.5" font-weight="bold" text-anchor="middle" fill="#1a1a1a"  stroke="#1a1a1a" stroke-width="0.35">+</text>
<text x="678.9" y="409.6" font-size="12.5" font-weight="normal" text-anchor="start" fill="#1a1a1a" textLength="43.4" lengthAdjust="spacingAndGlyphs"  stroke="#1a1a1a" stroke-width="0.15">Septum</text>
<line x1="673.1" y1="420.4" x2="673.1" y2="516.0" stroke="#444" stroke-width="1"/>
<line x1="669.7" y1="515.7" x2="673.1" y2="515.7" stroke="#444" stroke-width="1"/>
<text x="665.7" y="518.3000000000001" font-size="7.4" font-weight="normal" text-anchor="end" fill="#1e1e1e"  stroke="#1e1e1e" stroke-width="0.25">0</text>
<line x1="669.7" y1="499.8" x2="673.1" y2="499.8" stroke="#444" stroke-width="1"/>
<text x="665.7" y="502.40000000000003" font-size="7.4" font-weight="normal" text-anchor="end" fill="#1e1e1e"  stroke="#1e1e1e" stroke-width="0.25">10000</text>
<line x1="669.7" y1="484.0" x2="673.1" y2="484.0" stroke="#444" stroke-width="1"/>
<text x="665.7" y="486.6" font-size="7.4" font-weight="normal" text-anchor="end" fill="#1e1e1e"  stroke="#1e1e1e" stroke-width="0.25">20000</text>
<line x1="669.7" y1="468.1" x2="673.1" y2="468.1" stroke="#444" stroke-width="1"/>
<text x="665.7" y="470.70000000000005" font-size="7.4" font-weight="normal" text-anchor="end" fill="#1e1e1e"  stroke="#1e1e1e" stroke-width="0.25">30000</text>
<line x1="669.7" y1="452.2" x2="673.1" y2="452.2" stroke="#444" stroke-width="1"/>
<text x="665.7" y="454.8" font-size="7.4" font-weight="normal" text-anchor="end" fill="#1e1e1e"  stroke="#1e1e1e" stroke-width="0.25">40000</text>
<line x1="669.7" y1="436.3" x2="673.1" y2="436.3" stroke="#444" stroke-width="1"/>
<text x="665.7" y="438.90000000000003" font-size="7.4" font-weight="normal" text-anchor="end" fill="#1e1e1e"  stroke="#1e1e1e" stroke-width="0.25">50000</text>
<line x1="669.7" y1="420.4" x2="673.1" y2="420.4" stroke="#444" stroke-width="1"/>
<text x="665.7" y="423.0" font-size="7.4" font-weight="normal" text-anchor="end" fill="#1e1e1e"  stroke="#1e1e1e" stroke-width="0.25">60000</text>
<text x="0" y="0" transform="translate(633.89,468.2) rotate(-90)" font-size="10.75" font-weight="bold" stroke="#111" stroke-width="0.2" text-anchor="middle" fill="#111" textLength="85.7" lengthAdjust="spacingAndGlyphs">aSyn IF intensity</text>
<text x="647.7" y="531.4" font-size="9" font-weight="bold" text-anchor="start" fill="#1a1a1a" textLength="31.8" lengthAdjust="spacingAndGlyphs"  stroke="#1a1a1a" stroke-width="0.2">AT2101</text>
<line x1="687.75" y1="498.3" x2="687.75" y2="499.9" stroke="#555" stroke-width="1.1"/>
<line x1="684.35" y1="498.3" x2="691.15" y2="498.3" stroke="#555" stroke-width="1.1"/>
<rect x="681.3" y="499.9" width="12.900000000000091" height="16.100000000000023" fill="#b3b3b3" stroke="#4a4a4a" stroke-width="1"/>
<line x1="701.6" y1="486.7" x2="701.6" y2="491.1" stroke="#555" stroke-width="1.1"/>
<line x1="698.2" y1="486.7" x2="705.0" y2="486.7" stroke="#555" stroke-width="1.1"/>
<rect x="695.2" y="491.1" width="12.799999999999955" height="24.899999999999977" fill="#b3b3b3" stroke="#4a4a4a" stroke-width="1"/>
<line x1="715.1" y1="456.3" x2="715.1" y2="461.8" stroke="#333" stroke-width="1.1"/>
<line x1="711.7" y1="456.3" x2="718.5" y2="456.3" stroke="#333" stroke-width="1.1"/>
<rect x="709.0" y="461.8" width="12.200000000000045" height="54.19999999999999" fill="#3a3a3a" stroke="#222" stroke-width="1"/>
<line x1="728.6" y1="446.9" x2="728.6" y2="455.2" stroke="#333" stroke-width="1.1"/>
<line x1="725.2" y1="446.9" x2="732.0" y2="446.9" stroke="#333" stroke-width="1.1"/>
<rect x="722.2" y="455.2" width="12.799999999999955" height="60.80000000000001" fill="#3a3a3a" stroke="#222" stroke-width="1"/>
<text x="715.6" y="454.1" font-size="11" font-weight="bold" text-anchor="middle" fill="#222"  stroke="#222" stroke-width="0.15">**</text>
<text x="729.1" y="445.90000000000003" font-size="11" font-weight="bold" text-anchor="middle" fill="#222"  stroke="#222" stroke-width="0.15">**</text>
<text x="690.45" y="531.5" font-size="9.5" font-weight="bold" text-anchor="middle" fill="#1a1a1a"  stroke="#1a1a1a" stroke-width="0.35">-</text>
<text x="704.8000000000001" y="531.5" font-size="9.5" font-weight="bold" text-anchor="middle" fill="#1a1a1a"  stroke="#1a1a1a" stroke-width="0.35">+</text>
<text x="719.9" y="531.5" font-size="9.5" font-weight="bold" text-anchor="middle" fill="#1a1a1a"  stroke="#1a1a1a" stroke-width="0.35">-</text>
<text x="733.4" y="531.5" font-size="9.5" font-weight="bold" text-anchor="middle" fill="#1a1a1a"  stroke="#1a1a1a" stroke-width="0.35">+</text>
<text x="-0.5" y="597" font-size="23" font-weight="normal" text-anchor="start" fill="#111" >b</text>
<line x1="67.1" y1="596.2" x2="67.1" y2="731.2" stroke="#333" stroke-width="1"/>
<line x1="63.89999999999999" y1="731.2" x2="67.1" y2="731.2" stroke="#333" stroke-width="1"/>
<text x="60.1" y="734.1" font-size="9" font-weight="normal" text-anchor="end" fill="#1a1a1a"  stroke="#1a1a1a" stroke-width="0.2">0.0</text>
<line x1="63.89999999999999" y1="704.1" x2="67.1" y2="704.1" stroke="#333" stroke-width="1"/>
<text x="60.1" y="707.0" font-size="9" font-weight="normal" text-anchor="end" fill="#1a1a1a"  stroke="#1a1a1a" stroke-width="0.2">0.5</text>
<line x1="63.89999999999999" y1="677.0" x2="67.1" y2="677.0" stroke="#333" stroke-width="1"/>
<text x="60.1" y="679.9" font-size="9" font-weight="normal" text-anchor="end" fill="#1a1a1a"  stroke="#1a1a1a" stroke-width="0.2">1.0</text>
<line x1="63.89999999999999" y1="650.0" x2="67.1" y2="650.0" stroke="#333" stroke-width="1"/>
<text x="60.1" y="652.9" font-size="9" font-weight="normal" text-anchor="end" fill="#1a1a1a"  stroke="#1a1a1a" stroke-width="0.2">1.5</text>
<line x1="63.89999999999999" y1="623.0" x2="67.1" y2="623.0" stroke="#333" stroke-width="1"/>
<text x="60.1" y="625.9" font-size="9" font-weight="normal" text-anchor="end" fill="#1a1a1a"  stroke="#1a1a1a" stroke-width="0.2">2.0</text>
<line x1="63.89999999999999" y1="596.2" x2="67.1" y2="596.2" stroke="#333" stroke-width="1"/>
<text x="60.1" y="599.1" font-size="9" font-weight="normal" text-anchor="end" fill="#1a1a1a"  stroke="#1a1a1a" stroke-width="0.2">2.5</text>
<text x="127.6" y="596.4" font-size="10.6" font-weight="normal" text-anchor="start" fill="#1a1a1a" textLength="74.5" lengthAdjust="spacingAndGlyphs" >water extraction</text>
<line x1="93.25" y1="625.1" x2="93.25" y2="634.2" stroke="#333" stroke-width="1.4"/>
<line x1="89.85" y1="625.1" x2="96.65" y2="625.1" stroke="#333" stroke-width="1.4"/>
<rect x="82.8" y="634.2" width="20.900000000000006" height="97.0" fill="#383838" stroke="none" stroke-width="1"/>
<line x1="127.55" y1="624.1" x2="127.55" y2="633.4" stroke="#333" stroke-width="1.4"/>
<line x1="124.14999999999999" y1="624.1" x2="130.95" y2="624.1" stroke="#333" stroke-width="1.4"/>
<rect x="117.1" y="633.4" width="20.900000000000006" height="97.80000000000007" fill="#383838" stroke="none" stroke-width="1"/>
<line x1="162.0" y1="619.2" x2="162.0" y2="627.3" stroke="#333" stroke-width="1.4"/>
<line x1="158.6" y1="619.2" x2="165.4" y2="619.2" stroke="#333" stroke-width="1.4"/>
<rect x="151.4" y="627.3" width="21.19999999999999" height="103.90000000000009" fill="#383838" stroke="none" stroke-width="1"/>
<line x1="196.3" y1="623.3" x2="196.3" y2="632.9" stroke="#333" stroke-width="1.4"/>
<line x1="192.9" y1="623.3" x2="199.70000000000002" y2="623.3" stroke="#333" stroke-width="1.4"/>
<rect x="185.7" y="632.9" width="21.200000000000017" height="98.30000000000007" fill="#383838" stroke="none" stroke-width="1"/>
<line x1="230.75" y1="631.3" x2="230.75" y2="635.9" stroke="#333" stroke-width="1.4"/>
<line x1="227.35" y1="631.3" x2="234.15" y2="631.3" stroke="#333" stroke-width="1.4"/>
<rect x="220" y="635.9" width="21.5" height="95.30000000000007" fill="#383838" stroke="none" stroke-width="1"/>
<text x="0" y="0" transform="translate(38.03,663.6) rotate(-90)" font-size="10.5" font-weight="normal" stroke="#1a1a1a" stroke-width="0.2" text-anchor="middle" fill="#1a1a1a" textLength="111.6" lengthAdjust="spacingAndGlyphs">ug Synuclein/mg protein</text>
<rect x="41.3" y="735.4" width="207.8" height="32.80000000000007" fill="none" stroke="#666" stroke-width="1"/>
<line x1="41.3" y1="751.6" x2="249.1" y2="751.6" stroke="#666" stroke-width="1"/>
<line x1="68.4" y1="735.4" x2="68.4" y2="768.2" stroke="#666" stroke-width="1"/>
<line x1="111.2" y1="735.4" x2="111.2" y2="768.2" stroke="#888" stroke-width="1.5"/>
<text x="54.85" y="747.6" font-size="9.2" font-weight="normal" text-anchor="middle" fill="#1a1a1a" >Age</text>
<text x="92.20000000000002" y="746.8000000000001" font-size="8.8" font-weight="normal" text-anchor="middle" fill="#1a1a1a" >1 month</text>
<text x="180.15" y="746.6" font-size="8.8" font-weight="normal" text-anchor="middle" fill="#1a1a1a" >5 months</text>
<text x="41.9" y="763.2" font-size="7.2" font-weight="normal" text-anchor="start" fill="#1a1a1a" textLength="25.60000000000001" lengthAdjust="spacingAndGlyphs" >AT2101</text>
<rect x="88.75" y="760.6" width="3.6" height="1.6" fill="#222" stroke="none" stroke-width="1"/>
<rect x="127.95" y="760.6" width="3.6" height="1.6" fill="#222" stroke="none" stroke-width="1"/>
<text x="163.5" y="763.5" font-size="8.6" font-weight="normal" text-anchor="middle" fill="#1a1a1a" >3-4</text>
<rect x="196.9" y="760.6" width="3.6" height="1.6" fill="#222" stroke="none" stroke-width="1"/>
<text x="232.15" y="763.5" font-size="8.6" font-weight="normal" text-anchor="middle" fill="#1a1a1a" >7-7</text>
<line x1="315.1" y1="595.3" x2="315.1" y2="730.8" stroke="#777" stroke-width="1"/>
<line x1="311.90000000000003" y1="730.8" x2="315.1" y2="730.8" stroke="#777" stroke-width="1"/>
<text x="307.3" y="733.6999999999999" font-size="9" font-weight="normal" text-anchor="end" fill="#1a1a1a"  stroke="#1a1a1a" stroke-width="0.2">0</text>
<line x1="311.90000000000003" y1="703.7" x2="315.1" y2="703.7" stroke="#777" stroke-width="1"/>
<text x="307.3" y="706.6" font-size="9" font-weight="normal" text-anchor="end" fill="#1a1a1a"  stroke="#1a1a1a" stroke-width="0.2">2</text>
<line x1="311.90000000000003" y1="676.6" x2="315.1" y2="676.6" stroke="#777" stroke-width="1"/>
<text x="307.3" y="679.5" font-size="9" font-weight="normal" text-anchor="end" fill="#1a1a1a"  stroke="#1a1a1a" stroke-width="0.2">4</text>
<line x1="311.90000000000003" y1="649.5" x2="315.1" y2="649.5" stroke="#777" stroke-width="1"/>
<text x="307.3" y="652.4" font-size="9" font-weight="normal" text-anchor="end" fill="#1a1a1a"  stroke="#1a1a1a" stroke-width="0.2">6</text>
<line x1="311.90000000000003" y1="622.4" x2="315.1" y2="622.4" stroke="#777" stroke-width="1"/>
<text x="307.3" y="625.3" font-size="9" font-weight="normal" text-anchor="end" fill="#1a1a1a"  stroke="#1a1a1a" stroke-width="0.2">8</text>
<line x1="311.90000000000003" y1="595.3" x2="315.1" y2="595.3" stroke="#777" stroke-width="1"/>
<text x="307.3" y="598.1999999999999" font-size="9" font-weight="normal" text-anchor="end" fill="#1a1a1a"  stroke="#1a1a1a" stroke-width="0.2">10</text>
<text x="374.9" y="596.4" font-size="10.6" font-weight="normal" text-anchor="start" fill="#1a1a1a" textLength="83.70000000000005" lengthAdjust="spacingAndGlyphs" >TX-100 extraction</text>
<line x1="340.7" y1="623.4" x2="340.7" y2="630.2" stroke="#333" stroke-width="1.4"/>
<line x1="337.3" y1="623.4" x2="344.09999999999997" y2="623.4" stroke="#333" stroke-width="1.4"/>
<rect x="330.5" y="630.2" width="20.399999999999977" height="100.59999999999991" fill="#383838" stroke="none" stroke-width="1"/>
<line x1="375.35" y1="618.6" x2="375.35" y2="621.2" stroke="#333" stroke-width="1.4"/>
<line x1="371.95000000000005" y1="618.6" x2="378.75" y2="618.6" stroke="#333" stroke-width="1.4"/>
<rect x="365" y="621.2" width="20.69999999999999" height="109.59999999999991" fill="#383838" stroke="none" stroke-width="1"/>
<line x1="409.35" y1="621.9" x2="409.35" y2="625.8" stroke="#333" stroke-width="1.4"/>
<line x1="405.95000000000005" y1="621.9" x2="412.75" y2="621.9" stroke="#333" stroke-width="1.4"/>
<rect x="398.8" y="625.8" width="21.099999999999966" height="105.0" fill="#383838" stroke="none" stroke-width="1"/>
<line x1="443.65" y1="622.9" x2="443.65" y2="626.2" stroke="#333" stroke-width="1.4"/>
<line x1="440.25" y1="622.9" x2="447.04999999999995" y2="622.9" stroke="#333" stroke-width="1.4"/>
<rect x="433" y="626.2" width="21.30000000000001" height="104.59999999999991" fill="#383838" stroke="none" stroke-width="1"/>
<line x1="478.15" y1="621.9" x2="478.15" y2="626.5" stroke="#333" stroke-width="1.4"/>
<line x1="474.75" y1="621.9" x2="481.54999999999995" y2="621.9" stroke="#333" stroke-width="1.4"/>
<rect x="467.5" y="626.5" width="21.30000000000001" height="104.29999999999995" fill="#383838" stroke="none" stroke-width="1"/>
<text x="0" y="0" transform="translate(287.63,663.6) rotate(-90)" font-size="10.5" font-weight="normal" stroke="#1a1a1a" stroke-width="0.2" text-anchor="middle" fill="#1a1a1a" textLength="111.6" lengthAdjust="spacingAndGlyphs">ug Synuclein/mg protein</text>
<rect x="288.5" y="734.3" width="208.10000000000002" height="33.0" fill="none" stroke="#666" stroke-width="1"/>
<line x1="288.5" y1="750.7" x2="496.6" y2="750.7" stroke="#666" stroke-width="1"/>
<line x1="316.1" y1="734.3" x2="316.1" y2="767.3" stroke="#666" stroke-width="1"/>
<line x1="358.5" y1="734.3" x2="358.5" y2="767.3" stroke="#888" stroke-width="1.5"/>
<text x="302.3" y="746.7" font-size="9.2" font-weight="normal" text-anchor="middle" fill="#1a1a1a" >Age</text>
<text x="339.7" y="745.9000000000001" font-size="8.8" font-weight="normal" text-anchor="middle" fill="#1a1a1a" >1 month</text>
<text x="427.55" y="745.7" font-size="8.8" font-weight="normal" text-anchor="middle" fill="#1a1a1a" >5 months</text>
<text x="289.1" y="762.3" font-size="7.2" font-weight="normal" text-anchor="start" fill="#1a1a1a" textLength="26.100000000000023" lengthAdjust="spacingAndGlyphs" >AT2101</text>
<rect x="336.2" y="759.6999999999999" width="3.6" height="1.6" fill="#222" stroke="none" stroke-width="1"/>
<rect x="375.75" y="759.6999999999999" width="3.6" height="1.6" fill="#222" stroke="none" stroke-width="1"/>
<text x="410.85" y="762.5999999999999" font-size="8.6" font-weight="normal" text-anchor="middle" fill="#1a1a1a" >3-4</text>
<rect x="444.24999999999994" y="759.6999999999999" width="3.6" height="1.6" fill="#222" stroke="none" stroke-width="1"/>
<text x="479.54999999999995" y="762.5999999999999" font-size="8.6" font-weight="normal" text-anchor="middle" fill="#1a1a1a" >7-7</text>
<line x1="562.8" y1="595.4" x2="562.8" y2="731.3" stroke="#888" stroke-width="1.5"/>
<line x1="559.5999999999999" y1="731.3" x2="562.8" y2="731.3" stroke="#888" stroke-width="1"/>
<text x="555.2" y="734.1999999999999" font-size="9" font-weight="normal" text-anchor="end" fill="#1a1a1a"  stroke="#1a1a1a" stroke-width="0.2">0</text>
<line x1="559.5999999999999" y1="697.3" x2="562.8" y2="697.3" stroke="#888" stroke-width="1"/>
<text x="555.2" y="700.1999999999999" font-size="9" font-weight="normal" text-anchor="end" fill="#1a1a1a"  stroke="#1a1a1a" stroke-width="0.2">20</text>
<line x1="559.5999999999999" y1="663.3" x2="562.8" y2="663.3" stroke="#888" stroke-width="1"/>
<text x="555.2" y="666.1999999999999" font-size="9" font-weight="normal" text-anchor="end" fill="#1a1a1a"  stroke="#1a1a1a" stroke-width="0.2">40</text>
<line x1="559.5999999999999" y1="629.4" x2="562.8" y2="629.4" stroke="#888" stroke-width="1"/>
<text x="555.2" y="632.3" font-size="9" font-weight="normal" text-anchor="end" fill="#1a1a1a"  stroke="#1a1a1a" stroke-width="0.2">60</text>
<line x1="559.5999999999999" y1="595.4" x2="562.8" y2="595.4" stroke="#888" stroke-width="1"/>
<text x="555.2" y="598.3" font-size="9" font-weight="normal" text-anchor="end" fill="#1a1a1a"  stroke="#1a1a1a" stroke-width="0.2">80</text>
<text x="590" y="596.4" font-size="10.6" font-weight="normal" text-anchor="start" fill="#1a1a1a" textLength="137.5" lengthAdjust="spacingAndGlyphs" >TX-100/ Guanidine extraction</text>
<line x1="588.7" y1="626.7" x2="588.7" y2="639.6" stroke="#333" stroke-width="1.4"/>
<line x1="585.3000000000001" y1="626.7" x2="592.1" y2="626.7" stroke="#333" stroke-width="1.4"/>
<rect x="577.8" y="639.6" width="21.800000000000068" height="91.69999999999993" fill="#383838" stroke="none" stroke-width="1"/>
<line x1="623.0" y1="634" x2="623.0" y2="641.2" stroke="#333" stroke-width="1.4"/>
<line x1="619.6" y1="634" x2="626.4" y2="634" stroke="#333" stroke-width="1.4"/>
<rect x="612.1" y="641.2" width="21.799999999999955" height="90.09999999999991" fill="#383838" stroke="none" stroke-width="1"/>
<line x1="657.45" y1="624.4" x2="657.45" y2="629.4" stroke="#333" stroke-width="1.4"/>
<line x1="654.0500000000001" y1="624.4" x2="660.85" y2="624.4" stroke="#333" stroke-width="1.4"/>
<rect x="646.7" y="629.4" width="21.5" height="101.89999999999998" fill="#383838" stroke="none" stroke-width="1"/>
<line x1="691.75" y1="626.7" x2="691.75" y2="632" stroke="#333" stroke-width="1.4"/>
<line x1="688.35" y1="626.7" x2="695.15" y2="626.7" stroke="#333" stroke-width="1.4"/>
<rect x="681" y="632" width="21.5" height="99.29999999999995" fill="#383838" stroke="none" stroke-width="1"/>
<line x1="726.05" y1="627.4" x2="726.05" y2="632" stroke="#333" stroke-width="1.4"/>
<line x1="722.65" y1="627.4" x2="729.4499999999999" y2="627.4" stroke="#333" stroke-width="1.4"/>
<rect x="715.3" y="632" width="21.5" height="99.29999999999995" fill="#383838" stroke="none" stroke-width="1"/>
<text x="0" y="0" transform="translate(534.73,663.6) rotate(-90)" font-size="10.5" font-weight="normal" stroke="#1a1a1a" stroke-width="0.2" text-anchor="middle" fill="#1a1a1a" textLength="111.6" lengthAdjust="spacingAndGlyphs">ug Synuclein/mg protein</text>
<rect x="536.8" y="735.0" width="212.20000000000005" height="33.0" fill="none" stroke="#666" stroke-width="1"/>
<line x1="536.8" y1="751.5" x2="749" y2="751.5" stroke="#666" stroke-width="1"/>
<line x1="563.6" y1="735.0" x2="563.6" y2="768.0" stroke="#666" stroke-width="1"/>
<line x1="606.5" y1="735.0" x2="606.5" y2="768.0" stroke="#888" stroke-width="1.5"/>
<text x="550.2" y="747.5" font-size="9.2" font-weight="normal" text-anchor="middle" fill="#1a1a1a" >Age</text>
<text x="587.4499999999999" y="746.7" font-size="8.8" font-weight="normal" text-anchor="middle" fill="#1a1a1a" >1 month</text>
<text x="677.75" y="746.5" font-size="8.8" font-weight="normal" text-anchor="middle" fill="#1a1a1a" >5 months</text>
<text x="537.4" y="763.0" font-size="7.2" font-weight="normal" text-anchor="start" fill="#1a1a1a" textLength="25.300000000000068" lengthAdjust="spacingAndGlyphs" >AT2101</text>
<rect x="584.2" y="760.4" width="3.6" height="1.6" fill="#222" stroke="none" stroke-width="1"/>
<rect x="623.4000000000001" y="760.4" width="3.6" height="1.6" fill="#222" stroke="none" stroke-width="1"/>
<text x="658.95" y="763.3" font-size="8.6" font-weight="normal" text-anchor="middle" fill="#1a1a1a" >3-4</text>
<rect x="692.35" y="760.4" width="3.6" height="1.6" fill="#222" stroke="none" stroke-width="1"/>
<text x="727.4499999999999" y="763.3" font-size="8.6" font-weight="normal" text-anchor="middle" fill="#1a1a1a" >7-7</text>
</svg>
</body></html>
